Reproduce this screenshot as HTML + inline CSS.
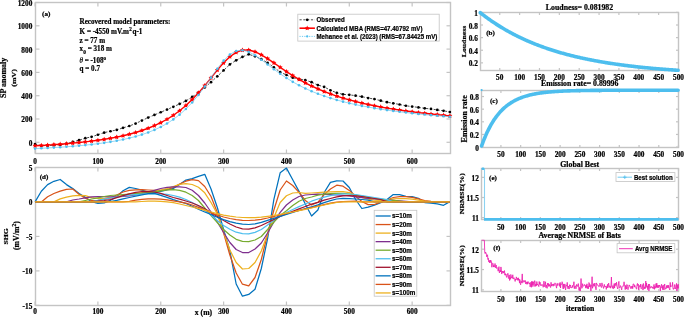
<!DOCTYPE html>
<html><head><meta charset="utf-8"><style>
html,body{margin:0;padding:0;background:#fff;}
body{width:685px;height:317px;overflow:hidden;}
svg{display:block;will-change:transform;}
text{stroke:#000;stroke-width:0.22px;}
</style></head><body>
<svg width="685" height="317" viewBox="0 0 685 317">
<rect width="685" height="317" fill="#fff"/>
<rect x="35.5" y="2.5" width="415" height="151" fill="none" stroke="#c4c4c4" stroke-width="1.4"/>
<line x1="35.05" y1="153.5" x2="35.05" y2="149.5" stroke="#c4c4c4" stroke-width="1.2" />
<line x1="35.05" y1="2.5" x2="35.05" y2="6.5" stroke="#c4c4c4" stroke-width="1.2" />
<line x1="97.9" y1="153.5" x2="97.9" y2="149.5" stroke="#c4c4c4" stroke-width="1.2" />
<line x1="97.9" y1="2.5" x2="97.9" y2="6.5" stroke="#c4c4c4" stroke-width="1.2" />
<line x1="160.75" y1="153.5" x2="160.75" y2="149.5" stroke="#c4c4c4" stroke-width="1.2" />
<line x1="160.75" y1="2.5" x2="160.75" y2="6.5" stroke="#c4c4c4" stroke-width="1.2" />
<line x1="223.6" y1="153.5" x2="223.6" y2="149.5" stroke="#c4c4c4" stroke-width="1.2" />
<line x1="223.6" y1="2.5" x2="223.6" y2="6.5" stroke="#c4c4c4" stroke-width="1.2" />
<line x1="286.45" y1="153.5" x2="286.45" y2="149.5" stroke="#c4c4c4" stroke-width="1.2" />
<line x1="286.45" y1="2.5" x2="286.45" y2="6.5" stroke="#c4c4c4" stroke-width="1.2" />
<line x1="349.3" y1="153.5" x2="349.3" y2="149.5" stroke="#c4c4c4" stroke-width="1.2" />
<line x1="349.3" y1="2.5" x2="349.3" y2="6.5" stroke="#c4c4c4" stroke-width="1.2" />
<line x1="412.15" y1="153.5" x2="412.15" y2="149.5" stroke="#c4c4c4" stroke-width="1.2" />
<line x1="412.15" y1="2.5" x2="412.15" y2="6.5" stroke="#c4c4c4" stroke-width="1.2" />
<line x1="35.5" y1="142.3" x2="39.5" y2="142.3" stroke="#c4c4c4" stroke-width="1.2" />
<line x1="450.5" y1="142.3" x2="446.5" y2="142.3" stroke="#c4c4c4" stroke-width="1.2" />
<line x1="35.5" y1="119" x2="39.5" y2="119" stroke="#c4c4c4" stroke-width="1.2" />
<line x1="450.5" y1="119" x2="446.5" y2="119" stroke="#c4c4c4" stroke-width="1.2" />
<line x1="35.5" y1="95.7" x2="39.5" y2="95.7" stroke="#c4c4c4" stroke-width="1.2" />
<line x1="450.5" y1="95.7" x2="446.5" y2="95.7" stroke="#c4c4c4" stroke-width="1.2" />
<line x1="35.5" y1="72.4" x2="39.5" y2="72.4" stroke="#c4c4c4" stroke-width="1.2" />
<line x1="450.5" y1="72.4" x2="446.5" y2="72.4" stroke="#c4c4c4" stroke-width="1.2" />
<line x1="35.5" y1="49.1" x2="39.5" y2="49.1" stroke="#c4c4c4" stroke-width="1.2" />
<line x1="450.5" y1="49.1" x2="446.5" y2="49.1" stroke="#c4c4c4" stroke-width="1.2" />
<line x1="35.5" y1="25.8" x2="39.5" y2="25.8" stroke="#c4c4c4" stroke-width="1.2" />
<line x1="450.5" y1="25.8" x2="446.5" y2="25.8" stroke="#c4c4c4" stroke-width="1.2" />
<line x1="35.5" y1="2.5" x2="39.5" y2="2.5" stroke="#c4c4c4" stroke-width="1.2" />
<line x1="450.5" y1="2.5" x2="446.5" y2="2.5" stroke="#c4c4c4" stroke-width="1.2" />
<text transform="translate(35.05,163.68) scale(1.0,1.0)" font-size="7.3" text-anchor="middle" font-family='"Liberation Serif", serif' font-weight="bold" >0</text>
<text transform="translate(97.9,163.68) scale(1.0,1.0)" font-size="7.3" text-anchor="middle" font-family='"Liberation Serif", serif' font-weight="bold" >100</text>
<text transform="translate(160.75,163.68) scale(1.0,1.0)" font-size="7.3" text-anchor="middle" font-family='"Liberation Serif", serif' font-weight="bold" >200</text>
<text transform="translate(223.6,163.68) scale(1.0,1.0)" font-size="7.3" text-anchor="middle" font-family='"Liberation Serif", serif' font-weight="bold" >300</text>
<text transform="translate(286.45,163.68) scale(1.0,1.0)" font-size="7.3" text-anchor="middle" font-family='"Liberation Serif", serif' font-weight="bold" >400</text>
<text transform="translate(349.3,163.68) scale(1.0,1.0)" font-size="7.3" text-anchor="middle" font-family='"Liberation Serif", serif' font-weight="bold" >500</text>
<text transform="translate(412.15,163.68) scale(1.0,1.0)" font-size="7.3" text-anchor="middle" font-family='"Liberation Serif", serif' font-weight="bold" >600</text>
<text transform="translate(32.3,145.78) scale(1.0,1.0)" font-size="7.3" text-anchor="end" font-family='"Liberation Serif", serif' font-weight="bold" >0</text>
<text transform="translate(32.3,122.48) scale(1.0,1.0)" font-size="7.3" text-anchor="end" font-family='"Liberation Serif", serif' font-weight="bold" >200</text>
<text transform="translate(32.3,99.18) scale(1.0,1.0)" font-size="7.3" text-anchor="end" font-family='"Liberation Serif", serif' font-weight="bold" >400</text>
<text transform="translate(32.3,75.88) scale(1.0,1.0)" font-size="7.3" text-anchor="end" font-family='"Liberation Serif", serif' font-weight="bold" >600</text>
<text transform="translate(32.3,52.58) scale(1.0,1.0)" font-size="7.3" text-anchor="end" font-family='"Liberation Serif", serif' font-weight="bold" >800</text>
<text transform="translate(32.3,29.28) scale(1.0,1.0)" font-size="7.3" text-anchor="end" font-family='"Liberation Serif", serif' font-weight="bold" >1000</text>
<text transform="translate(32.3,5.98) scale(1.0,1.0)" font-size="7.3" text-anchor="end" font-family='"Liberation Serif", serif' font-weight="bold" >1200</text>
<text transform="translate(6.3,77.8) rotate(-90) scale(1,0.9)" x="0" y="0" font-size="8.0" text-anchor="middle" font-family='"Liberation Serif", serif' font-weight="bold">SP anomaly</text>
<text transform="translate(16,77.9) rotate(-90) scale(1,0.9)" x="0" y="0" font-size="7.9" text-anchor="middle" font-family='"Liberation Serif", serif' font-weight="bold">(mV)</text>
<text transform="translate(42,16.4) scale(1.13,1)" font-size="6.4" text-anchor="start" font-family='"Liberation Serif", serif' font-weight="bold" >(a)</text>
<g transform="translate(79.6,0) scale(0.935,1) translate(-79.6,0)" stroke="#000" stroke-width="0.28">
<text x="79.6" y="24.2" font-size="7.6" text-anchor="start" font-family='"Liberation Serif", serif' font-weight="bold" fill="#000" >Recovered model parameters:</text>
<text x="79.6" y="34.1" font-size="7.6" font-family='"Liberation Serif", serif' font-weight="bold">K = -4550 mV.m<tspan font-size="5.5" dy="-3.3" dx="0.4">2</tspan><tspan dy="3.3" dx="0.8">q-1</tspan></text>
<text x="79.6" y="42.6" font-size="7.6" text-anchor="start" font-family='"Liberation Serif", serif' font-weight="bold" fill="#000" >z = 77 m</text>
<text x="79.4" y="50.6" font-size="7.6" font-family='"Liberation Serif", serif' font-weight="bold">x<tspan font-size="5.8" dy="3.2" dx="0.3">0</tspan><tspan dy="-3.2"> = 318 m</tspan></text>
<text x="79.4" y="63.0" font-size="7.6" font-family='"Liberation Serif", serif' font-weight="bold"><tspan font-style="italic" font-weight="normal">&#952;</tspan> = -108<tspan font-size="5.3" dy="-2.8">o</tspan></text>
<text x="79.6" y="70.6" font-size="7.6" text-anchor="start" font-family='"Liberation Serif", serif' font-weight="bold" fill="#000" >q = 0.7</text>
</g>
<polyline points="35.05,144.05 41.33,145.8 47.62,145.56 53.9,145.21 60.19,144.86 66.47,143.7 72.76,141.95 79.04,140.2 85.33,138.22 91.61,136.82 97.9,134.73 104.18,132.63 110.47,131.23 116.75,129.95 123.04,127.85 129.32,125.99 135.61,123.55 141.89,120.54 148.18,117.57 154.46,114.91 160.75,112.24 167.03,109.53 173.32,106.82 179.6,103.91 185.89,100.95 192.18,96.94 198.46,92.67 204.75,87.4 211.03,82.13 217.31,76.31 223.6,70.43 229.88,64.41 236.17,60.3 242.45,56.89 248.74,54.34 255.02,56.35 261.31,59.2 267.59,62.83 273.88,67.35 280.16,72.05 286.45,75.02 292.74,77.72 299.02,79.15 305.31,80.11 311.59,82.2 317.88,85.04 324.16,86.88 330.44,90.28 336.73,92.78 343.01,94.34 349.3,94.85 355.58,95.64 361.87,96.67 368.15,98.03 374.44,99.11 380.72,100.7 387.01,102.21 393.29,103.29 399.58,104.5 405.86,105.76 412.15,106.6 418.44,107.41 424.72,108.33 431,108.94 437.29,109.96 443.57,110.78 449.86,112" fill="none" stroke="#000" stroke-width="0.7" stroke-linejoin="round" stroke-dasharray="2.2,1.6"/>
<circle cx="35.05" cy="144.05" r="1.35" fill="#000"/>
<circle cx="41.33" cy="145.8" r="1.35" fill="#000"/>
<circle cx="47.62" cy="145.56" r="1.35" fill="#000"/>
<circle cx="53.9" cy="145.21" r="1.35" fill="#000"/>
<circle cx="60.19" cy="144.86" r="1.35" fill="#000"/>
<circle cx="66.47" cy="143.7" r="1.35" fill="#000"/>
<circle cx="72.76" cy="141.95" r="1.35" fill="#000"/>
<circle cx="79.04" cy="140.2" r="1.35" fill="#000"/>
<circle cx="85.33" cy="138.22" r="1.35" fill="#000"/>
<circle cx="91.61" cy="136.82" r="1.35" fill="#000"/>
<circle cx="97.9" cy="134.73" r="1.35" fill="#000"/>
<circle cx="104.18" cy="132.63" r="1.35" fill="#000"/>
<circle cx="110.47" cy="131.23" r="1.35" fill="#000"/>
<circle cx="116.75" cy="129.95" r="1.35" fill="#000"/>
<circle cx="123.04" cy="127.85" r="1.35" fill="#000"/>
<circle cx="129.32" cy="125.99" r="1.35" fill="#000"/>
<circle cx="135.61" cy="123.55" r="1.35" fill="#000"/>
<circle cx="141.89" cy="120.54" r="1.35" fill="#000"/>
<circle cx="148.18" cy="117.57" r="1.35" fill="#000"/>
<circle cx="154.46" cy="114.91" r="1.35" fill="#000"/>
<circle cx="160.75" cy="112.24" r="1.35" fill="#000"/>
<circle cx="167.03" cy="109.53" r="1.35" fill="#000"/>
<circle cx="173.32" cy="106.82" r="1.35" fill="#000"/>
<circle cx="179.6" cy="103.91" r="1.35" fill="#000"/>
<circle cx="185.89" cy="100.95" r="1.35" fill="#000"/>
<circle cx="192.18" cy="96.94" r="1.35" fill="#000"/>
<circle cx="198.46" cy="92.67" r="1.35" fill="#000"/>
<circle cx="204.75" cy="87.4" r="1.35" fill="#000"/>
<circle cx="211.03" cy="82.13" r="1.35" fill="#000"/>
<circle cx="217.31" cy="76.31" r="1.35" fill="#000"/>
<circle cx="223.6" cy="70.43" r="1.35" fill="#000"/>
<circle cx="229.88" cy="64.41" r="1.35" fill="#000"/>
<circle cx="236.17" cy="60.3" r="1.35" fill="#000"/>
<circle cx="242.45" cy="56.89" r="1.35" fill="#000"/>
<circle cx="248.74" cy="54.34" r="1.35" fill="#000"/>
<circle cx="255.02" cy="56.35" r="1.35" fill="#000"/>
<circle cx="261.31" cy="59.2" r="1.35" fill="#000"/>
<circle cx="267.59" cy="62.83" r="1.35" fill="#000"/>
<circle cx="273.88" cy="67.35" r="1.35" fill="#000"/>
<circle cx="280.16" cy="72.05" r="1.35" fill="#000"/>
<circle cx="286.45" cy="75.02" r="1.35" fill="#000"/>
<circle cx="292.74" cy="77.72" r="1.35" fill="#000"/>
<circle cx="299.02" cy="79.15" r="1.35" fill="#000"/>
<circle cx="305.31" cy="80.11" r="1.35" fill="#000"/>
<circle cx="311.59" cy="82.2" r="1.35" fill="#000"/>
<circle cx="317.88" cy="85.04" r="1.35" fill="#000"/>
<circle cx="324.16" cy="86.88" r="1.35" fill="#000"/>
<circle cx="330.44" cy="90.28" r="1.35" fill="#000"/>
<circle cx="336.73" cy="92.78" r="1.35" fill="#000"/>
<circle cx="343.01" cy="94.34" r="1.35" fill="#000"/>
<circle cx="349.3" cy="94.85" r="1.35" fill="#000"/>
<circle cx="355.58" cy="95.64" r="1.35" fill="#000"/>
<circle cx="361.87" cy="96.67" r="1.35" fill="#000"/>
<circle cx="368.15" cy="98.03" r="1.35" fill="#000"/>
<circle cx="374.44" cy="99.11" r="1.35" fill="#000"/>
<circle cx="380.72" cy="100.7" r="1.35" fill="#000"/>
<circle cx="387.01" cy="102.21" r="1.35" fill="#000"/>
<circle cx="393.29" cy="103.29" r="1.35" fill="#000"/>
<circle cx="399.58" cy="104.5" r="1.35" fill="#000"/>
<circle cx="405.86" cy="105.76" r="1.35" fill="#000"/>
<circle cx="412.15" cy="106.6" r="1.35" fill="#000"/>
<circle cx="418.44" cy="107.41" r="1.35" fill="#000"/>
<circle cx="424.72" cy="108.33" r="1.35" fill="#000"/>
<circle cx="431" cy="108.94" r="1.35" fill="#000"/>
<circle cx="437.29" cy="109.96" r="1.35" fill="#000"/>
<circle cx="443.57" cy="110.78" r="1.35" fill="#000"/>
<circle cx="449.86" cy="112" r="1.35" fill="#000"/>
<polyline points="35.05,145.8 41.33,145.46 47.62,145.08 53.9,144.67 60.19,144.22 66.47,143.72 72.76,143.16 79.04,142.55 85.33,141.87 91.61,141.12 97.9,140.28 104.18,139.33 110.47,138.28 116.75,137.09 123.04,135.74 129.32,134.22 135.61,132.49 141.89,130.52 148.18,128.26 154.46,125.67 160.75,122.69 167.03,119.25 173.32,115.29 179.6,110.73 185.89,105.5 192.18,99.55 198.46,92.89 204.75,85.59 211.03,77.86 217.31,70.09 223.6,62.83 229.88,56.73 236.17,52.39 242.45,50.16 248.74,50.04 255.02,51.74 261.31,54.78 267.59,58.65 273.88,62.92 280.16,67.3 286.45,71.57 292.74,75.61 299.02,79.38 305.31,82.84 311.59,86.01 317.88,88.9 324.16,91.52 330.44,93.91 336.73,96.09 343.01,98.07 349.3,99.89 355.58,101.55 361.87,103.07 368.15,104.47 374.44,105.77 380.72,106.96 387.01,108.07 393.29,109.1 399.58,110.06 405.86,110.95 412.15,111.79 418.44,112.57 424.72,113.31 431,114 437.29,114.65 443.57,115.26 449.86,115.84" fill="none" stroke="#ff0000" stroke-width="1.4" stroke-linejoin="round" />
<polygon points="35.05,143.2 35.81,144.75 37.52,145 36.29,146.2 36.58,147.9 35.05,147.1 33.52,147.9 33.81,146.2 32.58,145 34.29,144.75" fill="#ff0000"/>
<polygon points="41.33,142.86 42.1,144.41 43.81,144.65 42.57,145.86 42.86,147.56 41.33,146.76 39.81,147.56 40.1,145.86 38.86,144.65 40.57,144.41" fill="#ff0000"/>
<polygon points="47.62,142.48 48.38,144.03 50.09,144.28 48.86,145.48 49.15,147.19 47.62,146.38 46.09,147.19 46.38,145.48 45.15,144.28 46.86,144.03" fill="#ff0000"/>
<polygon points="53.9,142.07 54.67,143.62 56.38,143.87 55.14,145.07 55.43,146.77 53.9,145.97 52.38,146.77 52.67,145.07 51.43,143.87 53.14,143.62" fill="#ff0000"/>
<polygon points="60.19,141.62 60.95,143.16 62.66,143.41 61.43,144.62 61.72,146.32 60.19,145.52 58.66,146.32 58.95,144.62 57.72,143.41 59.43,143.16" fill="#ff0000"/>
<polygon points="66.47,141.12 67.24,142.66 68.95,142.91 67.71,144.12 68,145.82 66.47,145.02 64.95,145.82 65.24,144.12 64,142.91 65.71,142.66" fill="#ff0000"/>
<polygon points="72.76,140.56 73.52,142.11 75.23,142.36 74,143.57 74.29,145.27 72.76,144.46 71.23,145.27 71.52,143.57 70.29,142.36 72,142.11" fill="#ff0000"/>
<polygon points="79.04,139.95 79.81,141.5 81.52,141.75 80.28,142.95 80.57,144.66 79.04,143.85 77.52,144.66 77.81,142.95 76.57,141.75 78.28,141.5" fill="#ff0000"/>
<polygon points="85.33,139.27 86.09,140.82 87.8,141.07 86.57,142.27 86.86,143.98 85.33,143.17 83.8,143.98 84.09,142.27 82.86,141.07 84.57,140.82" fill="#ff0000"/>
<polygon points="91.61,138.52 92.38,140.07 94.09,140.31 92.85,141.52 93.14,143.22 91.61,142.42 90.09,143.22 90.38,141.52 89.14,140.31 90.85,140.07" fill="#ff0000"/>
<polygon points="97.9,137.68 98.66,139.22 100.37,139.47 99.14,140.68 99.43,142.38 97.9,141.58 96.37,142.38 96.66,140.68 95.43,139.47 97.14,139.22" fill="#ff0000"/>
<polygon points="104.18,136.73 104.95,138.28 106.66,138.53 105.42,139.74 105.71,141.44 104.18,140.63 102.66,141.44 102.95,139.74 101.71,138.53 103.42,138.28" fill="#ff0000"/>
<polygon points="110.47,135.68 111.23,137.22 112.94,137.47 111.71,138.68 112,140.38 110.47,139.58 108.94,140.38 109.23,138.68 108,137.47 109.71,137.22" fill="#ff0000"/>
<polygon points="116.75,134.49 117.52,136.03 119.23,136.28 117.99,137.49 118.28,139.19 116.75,138.39 115.23,139.19 115.52,137.49 114.28,136.28 115.99,136.03" fill="#ff0000"/>
<polygon points="123.04,133.14 123.8,134.69 125.51,134.94 124.28,136.14 124.57,137.85 123.04,137.04 121.51,137.85 121.8,136.14 120.57,134.94 122.28,134.69" fill="#ff0000"/>
<polygon points="129.32,131.62 130.09,133.17 131.8,133.42 130.56,134.62 130.85,136.32 129.32,135.52 127.8,136.32 128.09,134.62 126.85,133.42 128.56,133.17" fill="#ff0000"/>
<polygon points="135.61,129.89 136.37,131.44 138.08,131.69 136.85,132.89 137.14,134.59 135.61,133.79 134.08,134.59 134.37,132.89 133.14,131.69 134.85,131.44" fill="#ff0000"/>
<polygon points="141.89,127.92 142.66,129.47 144.37,129.71 143.13,130.92 143.42,132.62 141.89,131.82 140.37,132.62 140.66,130.92 139.42,129.71 141.13,129.47" fill="#ff0000"/>
<polygon points="148.18,125.66 148.94,127.21 150.65,127.46 149.42,128.66 149.71,130.36 148.18,129.56 146.65,130.36 146.94,128.66 145.71,127.46 147.42,127.21" fill="#ff0000"/>
<polygon points="154.46,123.07 155.23,124.62 156.94,124.86 155.7,126.07 155.99,127.77 154.46,126.97 152.94,127.77 153.23,126.07 151.99,124.86 153.7,124.62" fill="#ff0000"/>
<polygon points="160.75,120.09 161.51,121.64 163.22,121.88 161.99,123.09 162.28,124.79 160.75,123.99 159.22,124.79 159.51,123.09 158.28,121.88 159.99,121.64" fill="#ff0000"/>
<polygon points="167.03,116.65 167.8,118.2 169.51,118.45 168.27,119.65 168.56,121.36 167.03,120.55 165.51,121.36 165.8,119.65 164.56,118.45 166.27,118.2" fill="#ff0000"/>
<polygon points="173.32,112.69 174.08,114.24 175.79,114.49 174.56,115.69 174.85,117.39 173.32,116.59 171.79,117.39 172.08,115.69 170.85,114.49 172.56,114.24" fill="#ff0000"/>
<polygon points="179.6,108.13 180.37,109.68 182.08,109.93 180.84,111.13 181.13,112.83 179.6,112.03 178.08,112.83 178.37,111.13 177.13,109.93 178.84,109.68" fill="#ff0000"/>
<polygon points="185.89,102.9 186.65,104.45 188.36,104.7 187.13,105.9 187.42,107.6 185.89,106.8 184.36,107.6 184.65,105.9 183.42,104.7 185.13,104.45" fill="#ff0000"/>
<polygon points="192.18,96.95 192.94,98.5 194.65,98.75 193.41,99.95 193.7,101.66 192.18,100.85 190.65,101.66 190.94,99.95 189.7,98.75 191.41,98.5" fill="#ff0000"/>
<polygon points="198.46,90.29 199.22,91.84 200.93,92.08 199.7,93.29 199.99,94.99 198.46,94.19 196.93,94.99 197.22,93.29 195.99,92.08 197.7,91.84" fill="#ff0000"/>
<polygon points="204.75,82.99 205.51,84.53 207.22,84.78 205.98,85.99 206.27,87.69 204.75,86.89 203.22,87.69 203.51,85.99 202.27,84.78 203.98,84.53" fill="#ff0000"/>
<polygon points="211.03,75.26 211.79,76.81 213.5,77.06 212.27,78.26 212.56,79.96 211.03,79.16 209.5,79.96 209.79,78.26 208.56,77.06 210.27,76.81" fill="#ff0000"/>
<polygon points="217.31,67.49 218.08,69.04 219.79,69.29 218.55,70.49 218.84,72.19 217.31,71.39 215.79,72.19 216.08,70.49 214.84,69.29 216.55,69.04" fill="#ff0000"/>
<polygon points="223.6,60.23 224.36,61.78 226.07,62.03 224.84,63.23 225.13,64.93 223.6,64.13 222.07,64.93 222.36,63.23 221.13,62.03 222.84,61.78" fill="#ff0000"/>
<polygon points="229.88,54.13 230.65,55.68 232.36,55.93 231.12,57.13 231.41,58.83 229.88,58.03 228.36,58.83 228.65,57.13 227.41,55.93 229.12,55.68" fill="#ff0000"/>
<polygon points="236.17,49.79 236.93,51.34 238.64,51.59 237.41,52.79 237.7,54.49 236.17,53.69 234.64,54.49 234.93,52.79 233.7,51.59 235.41,51.34" fill="#ff0000"/>
<polygon points="242.45,47.56 243.22,49.1 244.93,49.35 243.69,50.56 243.98,52.26 242.45,51.46 240.93,52.26 241.22,50.56 239.98,49.35 241.69,49.1" fill="#ff0000"/>
<polygon points="248.74,47.44 249.5,48.99 251.21,49.24 249.98,50.44 250.27,52.15 248.74,51.34 247.21,52.15 247.5,50.44 246.27,49.24 247.98,48.99" fill="#ff0000"/>
<polygon points="255.02,49.14 255.79,50.69 257.5,50.94 256.26,52.14 256.55,53.85 255.02,53.04 253.5,53.85 253.79,52.14 252.55,50.94 254.26,50.69" fill="#ff0000"/>
<polygon points="261.31,52.18 262.07,53.73 263.78,53.97 262.55,55.18 262.84,56.88 261.31,56.08 259.78,56.88 260.07,55.18 258.84,53.97 260.55,53.73" fill="#ff0000"/>
<polygon points="267.59,56.05 268.36,57.6 270.07,57.84 268.83,59.05 269.12,60.75 267.59,59.95 266.07,60.75 266.36,59.05 265.12,57.84 266.83,57.6" fill="#ff0000"/>
<polygon points="273.88,60.32 274.64,61.87 276.35,62.12 275.12,63.33 275.41,65.03 273.88,64.22 272.35,65.03 272.64,63.33 271.41,62.12 273.12,61.87" fill="#ff0000"/>
<polygon points="280.16,64.7 280.93,66.25 282.64,66.49 281.4,67.7 281.69,69.4 280.16,68.6 278.64,69.4 278.93,67.7 277.69,66.49 279.4,66.25" fill="#ff0000"/>
<polygon points="286.45,68.97 287.21,70.51 288.92,70.76 287.69,71.97 287.98,73.67 286.45,72.87 284.92,73.67 285.21,71.97 283.98,70.76 285.69,70.51" fill="#ff0000"/>
<polygon points="292.74,73.01 293.5,74.56 295.21,74.81 293.97,76.01 294.26,77.71 292.74,76.91 291.21,77.71 291.5,76.01 290.26,74.81 291.97,74.56" fill="#ff0000"/>
<polygon points="299.02,76.78 299.78,78.32 301.49,78.57 300.26,79.78 300.55,81.48 299.02,80.68 297.49,81.48 297.78,79.78 296.55,78.57 298.26,78.32" fill="#ff0000"/>
<polygon points="305.31,80.24 306.07,81.79 307.78,82.04 306.54,83.24 306.83,84.94 305.31,84.14 303.78,84.94 304.07,83.24 302.83,82.04 304.54,81.79" fill="#ff0000"/>
<polygon points="311.59,83.41 312.35,84.96 314.06,85.21 312.83,86.41 313.12,88.11 311.59,87.31 310.06,88.11 310.35,86.41 309.12,85.21 310.83,84.96" fill="#ff0000"/>
<polygon points="317.88,86.3 318.64,87.84 320.35,88.09 319.11,89.3 319.4,91 317.88,90.2 316.35,91 316.64,89.3 315.4,88.09 317.11,87.84" fill="#ff0000"/>
<polygon points="324.16,88.92 324.92,90.47 326.63,90.72 325.4,91.92 325.69,93.63 324.16,92.82 322.63,93.63 322.92,91.92 321.69,90.72 323.4,90.47" fill="#ff0000"/>
<polygon points="330.44,91.31 331.21,92.86 332.92,93.11 331.68,94.31 331.97,96.02 330.44,95.21 328.92,96.02 329.21,94.31 327.97,93.11 329.68,92.86" fill="#ff0000"/>
<polygon points="336.73,93.49 337.49,95.04 339.2,95.28 337.97,96.49 338.26,98.19 336.73,97.39 335.2,98.19 335.49,96.49 334.26,95.28 335.97,95.04" fill="#ff0000"/>
<polygon points="343.01,95.47 343.78,97.02 345.49,97.27 344.25,98.47 344.54,100.18 343.01,99.37 341.49,100.18 341.78,98.47 340.54,97.27 342.25,97.02" fill="#ff0000"/>
<polygon points="349.3,97.29 350.06,98.83 351.77,99.08 350.54,100.29 350.83,101.99 349.3,101.19 347.77,101.99 348.06,100.29 346.83,99.08 348.54,98.83" fill="#ff0000"/>
<polygon points="355.58,98.95 356.35,100.5 358.06,100.74 356.82,101.95 357.11,103.65 355.58,102.85 354.06,103.65 354.35,101.95 353.11,100.74 354.82,100.5" fill="#ff0000"/>
<polygon points="361.87,100.47 362.63,102.02 364.34,102.27 363.11,103.47 363.4,105.18 361.87,104.37 360.34,105.18 360.63,103.47 359.4,102.27 361.11,102.02" fill="#ff0000"/>
<polygon points="368.15,101.87 368.92,103.42 370.63,103.67 369.39,104.88 369.68,106.58 368.15,105.77 366.63,106.58 366.92,104.88 365.68,103.67 367.39,103.42" fill="#ff0000"/>
<polygon points="374.44,103.17 375.2,104.72 376.91,104.96 375.68,106.17 375.97,107.87 374.44,107.07 372.91,107.87 373.2,106.17 371.97,104.96 373.68,104.72" fill="#ff0000"/>
<polygon points="380.72,104.36 381.49,105.91 383.2,106.16 381.96,107.37 382.25,109.07 380.72,108.26 379.2,109.07 379.49,107.37 378.25,106.16 379.96,105.91" fill="#ff0000"/>
<polygon points="387.01,105.47 387.77,107.02 389.48,107.27 388.25,108.47 388.54,110.18 387.01,109.37 385.48,110.18 385.77,108.47 384.54,107.27 386.25,107.02" fill="#ff0000"/>
<polygon points="393.29,106.5 394.06,108.05 395.77,108.3 394.53,109.5 394.82,111.21 393.29,110.4 391.77,111.21 392.06,109.5 390.82,108.3 392.53,108.05" fill="#ff0000"/>
<polygon points="399.58,107.46 400.34,109.01 402.05,109.26 400.82,110.46 401.11,112.16 399.58,111.36 398.05,112.16 398.34,110.46 397.11,109.26 398.82,109.01" fill="#ff0000"/>
<polygon points="405.86,108.35 406.63,109.9 408.34,110.15 407.1,111.36 407.39,113.06 405.86,112.25 404.34,113.06 404.63,111.36 403.39,110.15 405.1,109.9" fill="#ff0000"/>
<polygon points="412.15,109.19 412.91,110.74 414.62,110.99 413.39,112.19 413.68,113.89 412.15,113.09 410.62,113.89 410.91,112.19 409.68,110.99 411.39,110.74" fill="#ff0000"/>
<polygon points="418.44,109.97 419.2,111.52 420.91,111.77 419.67,112.97 419.96,114.68 418.44,113.87 416.91,114.68 417.2,112.97 415.96,111.77 417.67,111.52" fill="#ff0000"/>
<polygon points="424.72,110.71 425.48,112.26 427.19,112.5 425.96,113.71 426.25,115.41 424.72,114.61 423.19,115.41 423.48,113.71 422.25,112.5 423.96,112.26" fill="#ff0000"/>
<polygon points="431,111.4 431.77,112.95 433.48,113.19 432.24,114.4 432.53,116.1 431,115.3 429.48,116.1 429.77,114.4 428.53,113.19 430.24,112.95" fill="#ff0000"/>
<polygon points="437.29,112.05 438.05,113.6 439.76,113.84 438.53,115.05 438.82,116.75 437.29,115.95 435.76,116.75 436.05,115.05 434.82,113.84 436.53,113.6" fill="#ff0000"/>
<polygon points="443.57,112.66 444.34,114.21 446.05,114.46 444.81,115.66 445.1,117.36 443.57,116.56 442.05,117.36 442.34,115.66 441.1,114.46 442.81,114.21" fill="#ff0000"/>
<polygon points="449.86,113.24 450.62,114.79 452.33,115.04 451.1,116.24 451.39,117.94 449.86,117.14 448.33,117.94 448.62,116.24 447.39,115.04 449.1,114.79" fill="#ff0000"/>
<polyline points="35.05,148.58 41.33,148.29 47.62,147.96 53.9,147.6 60.19,147.2 66.47,146.76 72.76,146.27 79.04,145.73 85.33,145.12 91.61,144.45 97.9,143.69 104.18,142.84 110.47,141.87 116.75,140.78 123.04,139.54 129.32,138.12 135.61,136.49 141.89,134.61 148.18,132.43 154.46,129.9 160.75,126.95 167.03,123.49 173.32,119.42 179.6,114.63 185.89,109.02 192.18,102.48 198.46,94.98 204.75,86.6 211.03,77.65 217.31,68.71 223.6,60.66 229.88,54.5 236.17,50.95 242.45,50.21 248.74,51.91 255.02,55.32 261.31,59.7 267.59,64.48 273.88,69.25 280.16,73.8 286.45,78.01 292.74,81.85 299.02,85.32 305.31,88.44 311.59,91.25 317.88,93.77 324.16,96.04 330.44,98.1 336.73,99.96 343.01,101.65 349.3,103.19 355.58,104.59 361.87,105.88 368.15,107.07 374.44,108.17 380.72,109.18 387.01,110.12 393.29,110.99 399.58,111.8 405.86,112.56 412.15,113.27 418.44,113.94 424.72,114.56 431,115.15 437.29,115.71 443.57,116.23 449.86,116.73" fill="none" stroke="#4dbeee" stroke-width="0.6" stroke-linejoin="round" />
<circle cx="35.05" cy="148.58" r="1.3" fill="#4dbeee"/>
<circle cx="41.33" cy="148.29" r="1.3" fill="#4dbeee"/>
<circle cx="47.62" cy="147.96" r="1.3" fill="#4dbeee"/>
<circle cx="53.9" cy="147.6" r="1.3" fill="#4dbeee"/>
<circle cx="60.19" cy="147.2" r="1.3" fill="#4dbeee"/>
<circle cx="66.47" cy="146.76" r="1.3" fill="#4dbeee"/>
<circle cx="72.76" cy="146.27" r="1.3" fill="#4dbeee"/>
<circle cx="79.04" cy="145.73" r="1.3" fill="#4dbeee"/>
<circle cx="85.33" cy="145.12" r="1.3" fill="#4dbeee"/>
<circle cx="91.61" cy="144.45" r="1.3" fill="#4dbeee"/>
<circle cx="97.9" cy="143.69" r="1.3" fill="#4dbeee"/>
<circle cx="104.18" cy="142.84" r="1.3" fill="#4dbeee"/>
<circle cx="110.47" cy="141.87" r="1.3" fill="#4dbeee"/>
<circle cx="116.75" cy="140.78" r="1.3" fill="#4dbeee"/>
<circle cx="123.04" cy="139.54" r="1.3" fill="#4dbeee"/>
<circle cx="129.32" cy="138.12" r="1.3" fill="#4dbeee"/>
<circle cx="135.61" cy="136.49" r="1.3" fill="#4dbeee"/>
<circle cx="141.89" cy="134.61" r="1.3" fill="#4dbeee"/>
<circle cx="148.18" cy="132.43" r="1.3" fill="#4dbeee"/>
<circle cx="154.46" cy="129.9" r="1.3" fill="#4dbeee"/>
<circle cx="160.75" cy="126.95" r="1.3" fill="#4dbeee"/>
<circle cx="167.03" cy="123.49" r="1.3" fill="#4dbeee"/>
<circle cx="173.32" cy="119.42" r="1.3" fill="#4dbeee"/>
<circle cx="179.6" cy="114.63" r="1.3" fill="#4dbeee"/>
<circle cx="185.89" cy="109.02" r="1.3" fill="#4dbeee"/>
<circle cx="192.18" cy="102.48" r="1.3" fill="#4dbeee"/>
<circle cx="198.46" cy="94.98" r="1.3" fill="#4dbeee"/>
<circle cx="204.75" cy="86.6" r="1.3" fill="#4dbeee"/>
<circle cx="211.03" cy="77.65" r="1.3" fill="#4dbeee"/>
<circle cx="217.31" cy="68.71" r="1.3" fill="#4dbeee"/>
<circle cx="223.6" cy="60.66" r="1.3" fill="#4dbeee"/>
<circle cx="229.88" cy="54.5" r="1.3" fill="#4dbeee"/>
<circle cx="236.17" cy="50.95" r="1.3" fill="#4dbeee"/>
<circle cx="242.45" cy="50.21" r="1.3" fill="#4dbeee"/>
<circle cx="248.74" cy="51.91" r="1.3" fill="#4dbeee"/>
<circle cx="255.02" cy="55.32" r="1.3" fill="#4dbeee"/>
<circle cx="261.31" cy="59.7" r="1.3" fill="#4dbeee"/>
<circle cx="267.59" cy="64.48" r="1.3" fill="#4dbeee"/>
<circle cx="273.88" cy="69.25" r="1.3" fill="#4dbeee"/>
<circle cx="280.16" cy="73.8" r="1.3" fill="#4dbeee"/>
<circle cx="286.45" cy="78.01" r="1.3" fill="#4dbeee"/>
<circle cx="292.74" cy="81.85" r="1.3" fill="#4dbeee"/>
<circle cx="299.02" cy="85.32" r="1.3" fill="#4dbeee"/>
<circle cx="305.31" cy="88.44" r="1.3" fill="#4dbeee"/>
<circle cx="311.59" cy="91.25" r="1.3" fill="#4dbeee"/>
<circle cx="317.88" cy="93.77" r="1.3" fill="#4dbeee"/>
<circle cx="324.16" cy="96.04" r="1.3" fill="#4dbeee"/>
<circle cx="330.44" cy="98.1" r="1.3" fill="#4dbeee"/>
<circle cx="336.73" cy="99.96" r="1.3" fill="#4dbeee"/>
<circle cx="343.01" cy="101.65" r="1.3" fill="#4dbeee"/>
<circle cx="349.3" cy="103.19" r="1.3" fill="#4dbeee"/>
<circle cx="355.58" cy="104.59" r="1.3" fill="#4dbeee"/>
<circle cx="361.87" cy="105.88" r="1.3" fill="#4dbeee"/>
<circle cx="368.15" cy="107.07" r="1.3" fill="#4dbeee"/>
<circle cx="374.44" cy="108.17" r="1.3" fill="#4dbeee"/>
<circle cx="380.72" cy="109.18" r="1.3" fill="#4dbeee"/>
<circle cx="387.01" cy="110.12" r="1.3" fill="#4dbeee"/>
<circle cx="393.29" cy="110.99" r="1.3" fill="#4dbeee"/>
<circle cx="399.58" cy="111.8" r="1.3" fill="#4dbeee"/>
<circle cx="405.86" cy="112.56" r="1.3" fill="#4dbeee"/>
<circle cx="412.15" cy="113.27" r="1.3" fill="#4dbeee"/>
<circle cx="418.44" cy="113.94" r="1.3" fill="#4dbeee"/>
<circle cx="424.72" cy="114.56" r="1.3" fill="#4dbeee"/>
<circle cx="431" cy="115.15" r="1.3" fill="#4dbeee"/>
<circle cx="437.29" cy="115.71" r="1.3" fill="#4dbeee"/>
<circle cx="443.57" cy="116.23" r="1.3" fill="#4dbeee"/>
<circle cx="449.86" cy="116.73" r="1.3" fill="#4dbeee"/>
<rect x="297.8" y="14.2" width="141.4" height="26.9" fill="#fff" stroke="#c4c4c4" stroke-width="0.8"/>
<line x1="299.5" y1="19.8" x2="314.9" y2="19.8" stroke="#000" stroke-width="0.7" stroke-dasharray="2.2,1.6"/>
<circle cx="307.2" cy="19.8" r="1.35" fill="#000"/>
<line x1="299.5" y1="28.2" x2="314.9" y2="28.2" stroke="#ff0000" stroke-width="1.6" />
<polygon points="307.2,25.6 307.96,27.15 309.67,27.4 308.44,28.6 308.73,30.3 307.2,29.5 305.67,30.3 305.96,28.6 304.73,27.4 306.44,27.15" fill="#ff0000"/>
<line x1="299.5" y1="36.4" x2="314.9" y2="36.4" stroke="#4dbeee" stroke-width="0.8" stroke-dasharray="1.2,1.2"/>
<circle cx="307.2" cy="36.4" r="1.15" fill="#4dbeee"/>
<text transform="translate(316.5,22.2) scale(0.887,1)" font-size="6.9" text-anchor="start" font-family='"Liberation Sans", sans-serif' font-weight="bold" >Observed</text>
<text transform="translate(316.5,30.6) scale(0.887,1)" font-size="6.9" text-anchor="start" font-family='"Liberation Sans", sans-serif' font-weight="bold" >Calculated MBA (RMS=47.40792 mV)</text>
<text transform="translate(316.5,38.8) scale(0.887,1)" font-size="6.9" text-anchor="start" font-family='"Liberation Sans", sans-serif' font-weight="bold" >Mehanee et al. (2023) (RMS=67.84425 mV)</text>
<rect x="35.5" y="167.5" width="415" height="138" fill="none" stroke="#c4c4c4" stroke-width="1.4"/>
<line x1="35.05" y1="305.5" x2="35.05" y2="301.5" stroke="#c4c4c4" stroke-width="1.2" />
<line x1="35.05" y1="167.5" x2="35.05" y2="171.5" stroke="#c4c4c4" stroke-width="1.2" />
<line x1="97.9" y1="305.5" x2="97.9" y2="301.5" stroke="#c4c4c4" stroke-width="1.2" />
<line x1="97.9" y1="167.5" x2="97.9" y2="171.5" stroke="#c4c4c4" stroke-width="1.2" />
<line x1="160.75" y1="305.5" x2="160.75" y2="301.5" stroke="#c4c4c4" stroke-width="1.2" />
<line x1="160.75" y1="167.5" x2="160.75" y2="171.5" stroke="#c4c4c4" stroke-width="1.2" />
<line x1="223.6" y1="305.5" x2="223.6" y2="301.5" stroke="#c4c4c4" stroke-width="1.2" />
<line x1="223.6" y1="167.5" x2="223.6" y2="171.5" stroke="#c4c4c4" stroke-width="1.2" />
<line x1="286.45" y1="305.5" x2="286.45" y2="301.5" stroke="#c4c4c4" stroke-width="1.2" />
<line x1="286.45" y1="167.5" x2="286.45" y2="171.5" stroke="#c4c4c4" stroke-width="1.2" />
<line x1="349.3" y1="305.5" x2="349.3" y2="301.5" stroke="#c4c4c4" stroke-width="1.2" />
<line x1="349.3" y1="167.5" x2="349.3" y2="171.5" stroke="#c4c4c4" stroke-width="1.2" />
<line x1="412.15" y1="305.5" x2="412.15" y2="301.5" stroke="#c4c4c4" stroke-width="1.2" />
<line x1="412.15" y1="167.5" x2="412.15" y2="171.5" stroke="#c4c4c4" stroke-width="1.2" />
<line x1="35.5" y1="305.38" x2="39.5" y2="305.38" stroke="#c4c4c4" stroke-width="1.2" />
<line x1="450.5" y1="305.38" x2="446.5" y2="305.38" stroke="#c4c4c4" stroke-width="1.2" />
<line x1="35.5" y1="270.9" x2="39.5" y2="270.9" stroke="#c4c4c4" stroke-width="1.2" />
<line x1="450.5" y1="270.9" x2="446.5" y2="270.9" stroke="#c4c4c4" stroke-width="1.2" />
<line x1="35.5" y1="236.42" x2="39.5" y2="236.42" stroke="#c4c4c4" stroke-width="1.2" />
<line x1="450.5" y1="236.42" x2="446.5" y2="236.42" stroke="#c4c4c4" stroke-width="1.2" />
<line x1="35.5" y1="201.95" x2="39.5" y2="201.95" stroke="#c4c4c4" stroke-width="1.2" />
<line x1="450.5" y1="201.95" x2="446.5" y2="201.95" stroke="#c4c4c4" stroke-width="1.2" />
<line x1="35.5" y1="167.47" x2="39.5" y2="167.47" stroke="#c4c4c4" stroke-width="1.2" />
<line x1="450.5" y1="167.47" x2="446.5" y2="167.47" stroke="#c4c4c4" stroke-width="1.2" />
<text transform="translate(35.05,314.38) scale(1.0,1.0)" font-size="7.3" text-anchor="middle" font-family='"Liberation Serif", serif' font-weight="bold" >0</text>
<text transform="translate(97.9,314.38) scale(1.0,1.0)" font-size="7.3" text-anchor="middle" font-family='"Liberation Serif", serif' font-weight="bold" >100</text>
<text transform="translate(160.75,314.38) scale(1.0,1.0)" font-size="7.3" text-anchor="middle" font-family='"Liberation Serif", serif' font-weight="bold" >200</text>
<text transform="translate(223.6,314.38) scale(1.0,1.0)" font-size="7.3" text-anchor="middle" font-family='"Liberation Serif", serif' font-weight="bold" >300</text>
<text transform="translate(286.45,314.38) scale(1.0,1.0)" font-size="7.3" text-anchor="middle" font-family='"Liberation Serif", serif' font-weight="bold" >400</text>
<text transform="translate(349.3,314.38) scale(1.0,1.0)" font-size="7.3" text-anchor="middle" font-family='"Liberation Serif", serif' font-weight="bold" >500</text>
<text transform="translate(412.15,314.38) scale(1.0,1.0)" font-size="7.3" text-anchor="middle" font-family='"Liberation Serif", serif' font-weight="bold" >600</text>
<text transform="translate(32.3,308.86) scale(1.0,1.0)" font-size="7.3" text-anchor="end" font-family='"Liberation Serif", serif' font-weight="bold" >-15</text>
<text transform="translate(32.3,274.38) scale(1.0,1.0)" font-size="7.3" text-anchor="end" font-family='"Liberation Serif", serif' font-weight="bold" >-10</text>
<text transform="translate(32.3,239.91) scale(1.0,1.0)" font-size="7.3" text-anchor="end" font-family='"Liberation Serif", serif' font-weight="bold" >-5</text>
<text transform="translate(32.3,205.43) scale(1.0,1.0)" font-size="7.3" text-anchor="end" font-family='"Liberation Serif", serif' font-weight="bold" >0</text>
<text transform="translate(32.3,170.96) scale(1.0,1.0)" font-size="7.3" text-anchor="end" font-family='"Liberation Serif", serif' font-weight="bold" >5</text>
<text transform="translate(8.2,236.3) rotate(-90) scale(1,0.9)" x="0" y="0" font-size="7.8" text-anchor="middle" font-family='"Liberation Serif", serif' font-weight="bold">SHG</text>
<text transform="translate(19.1,235.6) rotate(-90)" font-size="7.8" text-anchor="middle" font-family='"Liberation Serif", serif' font-weight="bold">(mV/m<tspan font-size="5.5" dy="-3">2</tspan><tspan dy="3">)</tspan></text>
<text transform="translate(39.7,178.8) scale(1.1,1)" font-size="6.4" text-anchor="start" font-family='"Liberation Serif", serif' font-weight="bold" >(d)</text>
<text x="203.5" y="314.6" font-size="7.7" text-anchor="middle" font-family='"Liberation Serif", serif' font-weight="bold" fill="#000" >x (m)</text>
<polyline points="35.05,201.9 41.33,191.2 47.62,184.6 53.9,181.3 60.19,179.5 66.47,184.6 72.76,188.6 79.04,193.6 85.33,197.4 91.61,201.7 97.9,203.4 104.18,202.8 110.47,200.3 116.75,196.6 123.04,190.8 129.32,187.4 135.61,188.5 141.89,190.2 148.18,192 154.46,192.4 160.75,191.3 167.03,189.9 173.32,188.4 179.6,184.5 185.89,180.1 192.18,178.7 198.46,176.4 204.75,174.3 211.03,189 217.31,207.5 223.6,229.5 229.88,251 236.17,284 242.45,296.2 248.74,294.4 255.02,289.3 261.31,268.5 267.59,238.6 273.88,199.3 280.16,172.8 286.45,168.1 292.74,179.8 299.02,191.4 305.31,204 311.59,216 317.88,210 324.16,192.5 330.44,182.3 336.73,180.8 343.01,181 349.3,187.5 355.58,199.5 361.87,208.5 368.15,207.2 374.44,205.2 380.72,202.7 387.01,199.5 393.29,194.6 399.58,194.6 405.86,196.4 412.15,196.6 418.44,198.3 424.72,202.6 431,203.2 437.29,203.8 443.57,205.3 449.86,201.6" fill="none" stroke="#0072bd" stroke-width="1.25" stroke-linejoin="round" />
<polyline points="35.05,201.9 41.33,201.9 47.62,196.7 53.9,193.5 60.19,191.1 66.47,189.3 72.76,189 79.04,194.3 85.33,198.2 91.61,200.5 97.9,200.3 104.18,199.3 110.47,198 116.75,195 123.04,192 129.32,190.3 135.61,189.8 141.89,189.6 148.18,190 154.46,190.4 160.75,190.4 167.03,189.5 173.32,187.5 179.6,184 185.89,181.2 192.18,179.6 198.46,180.6 204.75,186.5 211.03,196.5 217.31,212.5 223.6,233 229.88,255 236.17,273 242.45,284.2 248.74,285.8 255.02,277.5 261.31,259.5 267.59,234 273.88,210 280.16,190 286.45,181 292.74,185.5 299.02,192.3 305.31,200.5 311.59,205 317.88,202.3 324.16,194.5 330.44,189 336.73,185.2 343.01,186.2 349.3,190.4 355.58,196.3 361.87,201.5 368.15,204.6 374.44,204.5 380.72,202.2 387.01,200 393.29,197.5 399.58,196.6 405.86,196.6 412.15,197.4 418.44,198.8 424.72,200.6 431,201.4 437.29,201.6 443.57,201.9 449.86,201.9" fill="none" stroke="#d95319" stroke-width="1.25" stroke-linejoin="round" />
<polyline points="35.05,201.9 41.33,201.9 47.62,201.9 53.9,201.9 60.19,198.9 66.47,197.2 72.76,195.9 79.04,195.3 85.33,195.6 91.61,197.6 97.9,198.5 104.18,198.3 110.47,197.5 116.75,196.5 123.04,195.3 129.32,194.2 135.61,193.2 141.89,192.5 148.18,191.8 154.46,191 160.75,190 167.03,188.5 173.32,186.5 179.6,184.3 185.89,183.6 192.18,184.5 198.46,187.3 204.75,192.8 211.03,202.5 217.31,214 223.6,232 229.88,250 236.17,262.5 242.45,269 248.74,268.5 255.02,262.5 261.31,251 267.59,234 273.88,217.5 280.16,202.5 286.45,195.8 292.74,193 299.02,192.5 305.31,193.3 311.59,193 317.88,192.6 324.16,192.2 330.44,191.8 336.73,191.6 343.01,191.6 349.3,192.6 355.58,195 361.87,197.4 368.15,199.2 374.44,200.2 380.72,200.5 387.01,199.8 393.29,198.8 399.58,198.5 405.86,198.6 412.15,199.2 418.44,200.2 424.72,201 431,201.6 437.29,201.7 443.57,201.8 449.86,201.9" fill="none" stroke="#edb120" stroke-width="1.25" stroke-linejoin="round" />
<polyline points="35.05,201.9 41.33,201.9 47.62,201.9 53.9,201.9 60.19,201.9 66.47,201.9 72.76,200 79.04,199 85.33,197.8 91.61,196.9 97.9,196.6 104.18,196.6 110.47,196.8 116.75,196.8 123.04,196.5 129.32,195.8 135.61,194.8 141.89,193.5 148.18,192 154.46,190.3 160.75,188.5 167.03,187.4 173.32,186.9 179.6,186.8 185.89,187.5 192.18,190.3 198.46,195.5 204.75,203 211.03,212 217.31,222 223.6,232.5 229.88,242.5 236.17,249.5 242.45,252.5 248.74,252.5 255.02,249 261.31,243 267.59,233 273.88,222 280.16,212.3 286.45,205 292.74,200 299.02,196.5 305.31,195 311.59,194.5 317.88,194.2 324.16,194.3 330.44,194.6 336.73,195 343.01,195.4 349.3,196 355.58,196.8 361.87,197.6 368.15,198.4 374.44,199 380.72,199.5 387.01,199.8 393.29,200.3 399.58,200.8 405.86,201.3 412.15,201.9 418.44,201.9 424.72,201.9 431,201.9 437.29,201.9 443.57,201.9 449.86,201.9" fill="none" stroke="#7e2f8e" stroke-width="1.25" stroke-linejoin="round" />
<polyline points="35.05,201.9 41.33,201.9 47.62,201.9 53.9,201.9 60.19,201.9 66.47,201.9 72.76,201.9 79.04,201.9 85.33,200.5 91.61,199 97.9,197.8 104.18,196.5 110.47,195.5 116.75,195 123.04,194.5 129.32,194 135.61,193.6 141.89,193.2 148.18,192.6 154.46,191.8 160.75,190.8 167.03,189.8 173.32,189.6 179.6,190.3 185.89,192.2 192.18,195.5 198.46,200.5 204.75,208 211.03,215.5 217.31,222.5 223.6,229.5 229.88,235 236.17,239.3 242.45,241.4 248.74,241.6 255.02,240 261.31,236.5 267.59,229.5 273.88,222 280.16,215.5 286.45,210.8 292.74,205.5 299.02,201.2 305.31,198.5 311.59,197 317.88,195.2 324.16,194.2 330.44,193.6 336.73,193.3 343.01,193.3 349.3,194 355.58,195 361.87,196.2 368.15,197.4 374.44,198.4 380.72,199.2 387.01,199.8 393.29,200.4 399.58,201.2 405.86,201.9 412.15,201.9 418.44,201.9 424.72,201.9 431,201.9 437.29,201.9 443.57,201.9 449.86,201.9" fill="none" stroke="#77ac30" stroke-width="1.25" stroke-linejoin="round" />
<polyline points="35.05,201.9 41.33,201.9 47.62,201.9 53.9,201.9 60.19,201.9 66.47,201.9 72.76,201.9 79.04,201.9 85.33,201.9 91.61,201.9 97.9,200.3 104.18,199.2 110.47,198 116.75,197 123.04,196 129.32,195.2 135.61,194.6 141.89,194.2 148.18,193.9 154.46,193.8 160.75,193.9 167.03,194.4 173.32,195.5 179.6,197.2 185.89,199.5 192.18,202.5 198.46,206 204.75,210.5 211.03,215 217.31,220.5 223.6,225.5 229.88,229.3 236.17,232.2 242.45,233.6 248.74,233.8 255.02,232.4 261.31,229.5 267.59,225 273.88,220 280.16,215.8 286.45,212.5 292.74,209.5 299.02,206.6 305.31,204 311.59,201.2 317.88,199 324.16,197.2 330.44,195.6 336.73,194.3 343.01,193.8 349.3,194 355.58,194.5 361.87,195.5 368.15,196.5 374.44,197.5 380.72,198.5 387.01,199.6 393.29,201.9 399.58,201.9 405.86,201.9 412.15,201.9 418.44,201.9 424.72,201.9 431,201.9 437.29,201.9 443.57,201.9 449.86,201.9" fill="none" stroke="#4dbeee" stroke-width="1.25" stroke-linejoin="round" />
<polyline points="35.05,201.9 41.33,201.9 47.62,201.9 53.9,201.9 60.19,201.9 66.47,201.9 72.76,201.9 79.04,201.9 85.33,201.9 91.61,201.9 97.9,201.2 104.18,200.5 110.47,199.6 116.75,197.6 123.04,195.6 129.32,193.8 135.61,192.4 141.89,191.5 148.18,191.5 154.46,192 160.75,193.4 167.03,195.5 173.32,197.5 179.6,199.2 185.89,201 192.18,203 198.46,205.5 204.75,208.8 211.03,212.5 217.31,216.5 223.6,220.5 229.88,224 236.17,227 242.45,228.8 248.74,229.2 255.02,227.8 261.31,225.5 267.59,222.5 273.88,219.5 280.16,216.5 286.45,213.8 292.74,211.3 299.02,208.8 305.31,206.5 311.59,204.2 317.88,202.3 324.16,200.2 330.44,198.5 336.73,196.8 343.01,195.8 349.3,195.5 355.58,195.8 361.87,196.5 368.15,197.5 374.44,198.5 380.72,199.5 387.01,201.9 393.29,201.9 399.58,201.9 405.86,201.9 412.15,201.9 418.44,201.9 424.72,201.9 431,201.9 437.29,201.9 443.57,201.9 449.86,201.9" fill="none" stroke="#a2142f" stroke-width="1.25" stroke-linejoin="round" />
<polyline points="35.05,201.9 41.33,201.9 47.62,201.9 53.9,201.9 60.19,201.9 66.47,201.9 72.76,201.9 79.04,201.9 85.33,201.9 91.61,201.9 97.9,201.9 104.18,201.9 110.47,201.5 116.75,200.3 123.04,198.8 129.32,197.5 135.61,196.1 141.89,194.9 148.18,193.6 154.46,193.4 160.75,195.3 167.03,197.4 173.32,199.6 179.6,201.6 185.89,203.5 192.18,206.3 198.46,209.2 204.75,212 211.03,214.5 217.31,217.3 223.6,219.7 229.88,221.6 236.17,223.2 242.45,224.2 248.74,224.5 255.02,223.8 261.31,222.3 267.59,220.3 273.88,218.3 280.16,216.3 286.45,214.4 292.74,212.5 299.02,210.5 305.31,208.7 311.59,206.8 317.88,204.8 324.16,202.6 330.44,200.6 336.73,199 343.01,198.4 349.3,198.6 355.58,199 361.87,199.5 368.15,200.2 374.44,201.9 380.72,201.9 387.01,201.9 393.29,201.9 399.58,201.9 405.86,201.9 412.15,201.9 418.44,201.9 424.72,201.9 431,201.9 437.29,201.9 443.57,201.9 449.86,201.9" fill="none" stroke="#0072bd" stroke-width="1.25" stroke-linejoin="round" />
<polyline points="35.05,201.9 41.33,201.9 47.62,201.9 53.9,201.9 60.19,201.9 66.47,201.9 72.76,201.9 79.04,201.9 85.33,201.9 91.61,201.9 97.9,201.9 104.18,201.9 110.47,201.9 116.75,201.9 123.04,201.9 129.32,201.3 135.61,200.2 141.89,199.3 148.18,198.9 154.46,198.8 160.75,199.2 167.03,199.9 173.32,200.8 179.6,201.8 185.89,203.2 192.18,205 198.46,207.4 204.75,210 211.03,212.8 217.31,215 223.6,217 229.88,218.5 236.17,219.6 242.45,220.3 248.74,220.5 255.02,220.2 261.31,219.3 267.59,218 273.88,216.5 280.16,215 286.45,213.5 292.74,212 299.02,210.3 305.31,209 311.59,207.7 317.88,206.2 324.16,204.6 330.44,203.2 336.73,202.2 343.01,201.7 349.3,201.4 355.58,201.2 361.87,201.9 368.15,201.9 374.44,201.9 380.72,201.9 387.01,201.9 393.29,201.9 399.58,201.9 405.86,201.9 412.15,201.9 418.44,201.9 424.72,201.9 431,201.9 437.29,201.9 443.57,201.9 449.86,201.9" fill="none" stroke="#d95319" stroke-width="1.25" stroke-linejoin="round" />
<polyline points="35.05,201.9 41.33,201.9 47.62,201.9 53.9,201.9 60.19,201.9 66.47,201.9 72.76,201.9 79.04,201.9 85.33,201.9 91.61,201.9 97.9,201.9 104.18,201.9 110.47,201.9 116.75,201.9 123.04,201.9 129.32,201.9 135.61,201.9 141.89,201.5 148.18,201.2 154.46,201.1 160.75,201.3 167.03,201.8 173.32,202.7 179.6,204 185.89,205.5 192.18,207 198.46,208.6 204.75,210.2 211.03,212 217.31,213.7 223.6,215.2 229.88,216.2 236.17,217 242.45,217.5 248.74,217.7 255.02,217.6 261.31,217.2 267.59,216.4 273.88,215.5 280.16,214.4 286.45,213.2 292.74,212 299.02,210.6 305.31,209.3 311.59,208 317.88,206.5 324.16,205 330.44,203.7 336.73,202.5 343.01,201.9 349.3,201.9 355.58,201.9 361.87,201.9 368.15,201.9 374.44,201.9 380.72,201.9 387.01,201.9 393.29,201.9 399.58,201.9 405.86,201.9 412.15,201.9 418.44,201.9 424.72,201.9 431,201.9 437.29,201.9 443.57,201.9 449.86,201.9" fill="none" stroke="#edb120" stroke-width="1.25" stroke-linejoin="round" />
<rect x="374.2" y="210.3" width="42.6" height="85.9" fill="#fff" stroke="#c4c4c4" stroke-width="0.8"/>
<line x1="375.6" y1="216" x2="390.7" y2="216" stroke="#0072bd" stroke-width="1.3" />
<text transform="translate(392,218.4) scale(0.9,1)" font-size="7.0" text-anchor="start" font-family='"Liberation Sans", sans-serif' font-weight="bold" >s=10m</text>
<line x1="375.6" y1="224.55" x2="390.7" y2="224.55" stroke="#d95319" stroke-width="1.3" />
<text transform="translate(392,226.95) scale(0.9,1)" font-size="7.0" text-anchor="start" font-family='"Liberation Sans", sans-serif' font-weight="bold" >s=20m</text>
<line x1="375.6" y1="233.1" x2="390.7" y2="233.1" stroke="#edb120" stroke-width="1.3" />
<text transform="translate(392,235.5) scale(0.9,1)" font-size="7.0" text-anchor="start" font-family='"Liberation Sans", sans-serif' font-weight="bold" >s=30m</text>
<line x1="375.6" y1="241.65" x2="390.7" y2="241.65" stroke="#7e2f8e" stroke-width="1.3" />
<text transform="translate(392,244.05) scale(0.9,1)" font-size="7.0" text-anchor="start" font-family='"Liberation Sans", sans-serif' font-weight="bold" >s=40m</text>
<line x1="375.6" y1="250.2" x2="390.7" y2="250.2" stroke="#77ac30" stroke-width="1.3" />
<text transform="translate(392,252.6) scale(0.9,1)" font-size="7.0" text-anchor="start" font-family='"Liberation Sans", sans-serif' font-weight="bold" >s=50m</text>
<line x1="375.6" y1="258.75" x2="390.7" y2="258.75" stroke="#4dbeee" stroke-width="1.3" />
<text transform="translate(392,261.15) scale(0.9,1)" font-size="7.0" text-anchor="start" font-family='"Liberation Sans", sans-serif' font-weight="bold" >s=60m</text>
<line x1="375.6" y1="267.3" x2="390.7" y2="267.3" stroke="#a2142f" stroke-width="1.3" />
<text transform="translate(392,269.7) scale(0.9,1)" font-size="7.0" text-anchor="start" font-family='"Liberation Sans", sans-serif' font-weight="bold" >s=70m</text>
<line x1="375.6" y1="275.85" x2="390.7" y2="275.85" stroke="#0072bd" stroke-width="1.3" />
<text transform="translate(392,278.25) scale(0.9,1)" font-size="7.0" text-anchor="start" font-family='"Liberation Sans", sans-serif' font-weight="bold" >s=80m</text>
<line x1="375.6" y1="284.4" x2="390.7" y2="284.4" stroke="#d95319" stroke-width="1.3" />
<text transform="translate(392,286.8) scale(0.9,1)" font-size="7.0" text-anchor="start" font-family='"Liberation Sans", sans-serif' font-weight="bold" >s=90m</text>
<line x1="375.6" y1="292.95" x2="390.7" y2="292.95" stroke="#edb120" stroke-width="1.3" />
<text transform="translate(392,295.35) scale(0.9,1)" font-size="7.0" text-anchor="start" font-family='"Liberation Sans", sans-serif' font-weight="bold" >s=100m</text>
<rect x="480.5" y="12.5" width="198" height="58" fill="none" stroke="#c4c4c4" stroke-width="1.4"/>
<line x1="499.76" y1="70.5" x2="499.76" y2="68" stroke="#c4c4c4" stroke-width="1.2" />
<line x1="499.76" y1="12.5" x2="499.76" y2="15" stroke="#c4c4c4" stroke-width="1.2" />
<line x1="519.62" y1="70.5" x2="519.62" y2="68" stroke="#c4c4c4" stroke-width="1.2" />
<line x1="519.62" y1="12.5" x2="519.62" y2="15" stroke="#c4c4c4" stroke-width="1.2" />
<line x1="539.48" y1="70.5" x2="539.48" y2="68" stroke="#c4c4c4" stroke-width="1.2" />
<line x1="539.48" y1="12.5" x2="539.48" y2="15" stroke="#c4c4c4" stroke-width="1.2" />
<line x1="559.34" y1="70.5" x2="559.34" y2="68" stroke="#c4c4c4" stroke-width="1.2" />
<line x1="559.34" y1="12.5" x2="559.34" y2="15" stroke="#c4c4c4" stroke-width="1.2" />
<line x1="579.2" y1="70.5" x2="579.2" y2="68" stroke="#c4c4c4" stroke-width="1.2" />
<line x1="579.2" y1="12.5" x2="579.2" y2="15" stroke="#c4c4c4" stroke-width="1.2" />
<line x1="599.06" y1="70.5" x2="599.06" y2="68" stroke="#c4c4c4" stroke-width="1.2" />
<line x1="599.06" y1="12.5" x2="599.06" y2="15" stroke="#c4c4c4" stroke-width="1.2" />
<line x1="618.92" y1="70.5" x2="618.92" y2="68" stroke="#c4c4c4" stroke-width="1.2" />
<line x1="618.92" y1="12.5" x2="618.92" y2="15" stroke="#c4c4c4" stroke-width="1.2" />
<line x1="638.78" y1="70.5" x2="638.78" y2="68" stroke="#c4c4c4" stroke-width="1.2" />
<line x1="638.78" y1="12.5" x2="638.78" y2="15" stroke="#c4c4c4" stroke-width="1.2" />
<line x1="658.64" y1="70.5" x2="658.64" y2="68" stroke="#c4c4c4" stroke-width="1.2" />
<line x1="658.64" y1="12.5" x2="658.64" y2="15" stroke="#c4c4c4" stroke-width="1.2" />
<line x1="678.5" y1="70.5" x2="678.5" y2="68" stroke="#c4c4c4" stroke-width="1.2" />
<line x1="678.5" y1="12.5" x2="678.5" y2="15" stroke="#c4c4c4" stroke-width="1.2" />
<line x1="480.5" y1="62.86" x2="483" y2="62.86" stroke="#c4c4c4" stroke-width="1.2" />
<line x1="678.5" y1="62.86" x2="676" y2="62.86" stroke="#c4c4c4" stroke-width="1.2" />
<line x1="480.5" y1="50.24" x2="483" y2="50.24" stroke="#c4c4c4" stroke-width="1.2" />
<line x1="678.5" y1="50.24" x2="676" y2="50.24" stroke="#c4c4c4" stroke-width="1.2" />
<line x1="480.5" y1="37.63" x2="483" y2="37.63" stroke="#c4c4c4" stroke-width="1.2" />
<line x1="678.5" y1="37.63" x2="676" y2="37.63" stroke="#c4c4c4" stroke-width="1.2" />
<line x1="480.5" y1="25.01" x2="483" y2="25.01" stroke="#c4c4c4" stroke-width="1.2" />
<line x1="678.5" y1="25.01" x2="676" y2="25.01" stroke="#c4c4c4" stroke-width="1.2" />
<line x1="480.5" y1="12.4" x2="483" y2="12.4" stroke="#c4c4c4" stroke-width="1.2" />
<line x1="678.5" y1="12.4" x2="676" y2="12.4" stroke="#c4c4c4" stroke-width="1.2" />
<text transform="translate(499.76,80.08) scale(1.0,1.0)" font-size="7.3" text-anchor="middle" font-family='"Liberation Serif", serif' font-weight="bold" >50</text>
<text transform="translate(519.62,80.08) scale(1.0,1.0)" font-size="7.3" text-anchor="middle" font-family='"Liberation Serif", serif' font-weight="bold" >100</text>
<text transform="translate(539.48,80.08) scale(1.0,1.0)" font-size="7.3" text-anchor="middle" font-family='"Liberation Serif", serif' font-weight="bold" >150</text>
<text transform="translate(559.34,80.08) scale(1.0,1.0)" font-size="7.3" text-anchor="middle" font-family='"Liberation Serif", serif' font-weight="bold" >200</text>
<text transform="translate(579.2,80.08) scale(1.0,1.0)" font-size="7.3" text-anchor="middle" font-family='"Liberation Serif", serif' font-weight="bold" >250</text>
<text transform="translate(599.06,80.08) scale(1.0,1.0)" font-size="7.3" text-anchor="middle" font-family='"Liberation Serif", serif' font-weight="bold" >300</text>
<text transform="translate(618.92,80.08) scale(1.0,1.0)" font-size="7.3" text-anchor="middle" font-family='"Liberation Serif", serif' font-weight="bold" >350</text>
<text transform="translate(638.78,80.08) scale(1.0,1.0)" font-size="7.3" text-anchor="middle" font-family='"Liberation Serif", serif' font-weight="bold" >400</text>
<text transform="translate(658.64,80.08) scale(1.0,1.0)" font-size="7.3" text-anchor="middle" font-family='"Liberation Serif", serif' font-weight="bold" >450</text>
<text transform="translate(678.5,80.08) scale(1.0,1.0)" font-size="7.3" text-anchor="middle" font-family='"Liberation Serif", serif' font-weight="bold" >500</text>
<text transform="translate(477.8,66.34) scale(1.0,1.0)" font-size="7.3" text-anchor="end" font-family='"Liberation Serif", serif' font-weight="bold" >0.2</text>
<text transform="translate(477.8,53.72) scale(1.0,1.0)" font-size="7.3" text-anchor="end" font-family='"Liberation Serif", serif' font-weight="bold" >0.4</text>
<text transform="translate(477.8,41.11) scale(1.0,1.0)" font-size="7.3" text-anchor="end" font-family='"Liberation Serif", serif' font-weight="bold" >0.6</text>
<text transform="translate(477.8,28.5) scale(1.0,1.0)" font-size="7.3" text-anchor="end" font-family='"Liberation Serif", serif' font-weight="bold" >0.8</text>
<text transform="translate(477.8,15.88) scale(1.0,1.0)" font-size="7.3" text-anchor="end" font-family='"Liberation Serif", serif' font-weight="bold" >1</text>
<text x="579.5" y="10.2" font-size="7.8" text-anchor="middle" font-family='"Liberation Serif", serif' font-weight="bold" fill="#000" >Loudness= 0.081982</text>
<text transform="translate(465.9,41.5) rotate(-90) scale(1,0.9)" x="0" y="0" font-size="7.8" text-anchor="middle" font-family='"Liberation Serif", serif' font-weight="bold">Loudness</text>
<text transform="translate(486.2,34.6) scale(1.1,1)" font-size="6.4" text-anchor="start" font-family='"Liberation Serif", serif' font-weight="bold" >(b)</text>
<polyline points="480.3,12.72 481.09,13.34 481.89,13.96 482.68,14.57 483.48,15.18 484.27,15.78 485.07,16.38 485.86,16.97 486.66,17.55 487.45,18.13 488.24,18.7 489.04,19.27 489.83,19.83 490.63,20.38 491.42,20.93 492.22,21.48 493.01,22.02 493.8,22.55 494.6,23.08 495.39,23.6 496.19,24.12 496.98,24.63 497.78,25.14 498.57,25.64 499.37,26.14 500.16,26.63 500.95,27.11 501.75,27.6 502.54,28.07 503.34,28.55 504.13,29.02 504.93,29.48 505.72,29.94 506.51,30.39 507.31,30.84 508.1,31.29 508.9,31.73 509.69,32.16 510.49,32.6 511.28,33.02 512.08,33.45 512.87,33.87 513.66,34.28 514.46,34.69 515.25,35.1 516.05,35.5 516.84,35.9 517.64,36.29 518.43,36.69 519.23,37.07 520.02,37.46 520.81,37.83 521.61,38.21 522.4,38.58 523.2,38.95 523.99,39.31 524.79,39.67 525.58,40.03 526.37,40.39 527.17,40.74 527.96,41.08 528.76,41.42 529.55,41.76 530.35,42.1 531.14,42.43 531.94,42.76 532.73,43.09 533.52,43.41 534.32,43.73 535.11,44.05 535.91,44.36 536.7,44.67 537.5,44.98 538.29,45.28 539.08,45.58 539.88,45.88 540.67,46.18 541.47,46.47 542.26,46.76 543.06,47.05 543.85,47.33 544.65,47.61 545.44,47.89 546.23,48.16 547.03,48.44 547.82,48.71 548.62,48.97 549.41,49.24 550.21,49.5 551,49.76 551.79,50.01 552.59,50.27 553.38,50.52 554.18,50.77 554.97,51.01 555.77,51.26 556.56,51.5 557.36,51.74 558.15,51.98 558.94,52.21 559.74,52.44 560.53,52.67 561.33,52.9 562.12,53.12 562.92,53.35 563.71,53.57 564.51,53.79 565.3,54 566.09,54.22 566.89,54.43 567.68,54.64 568.48,54.85 569.27,55.05 570.07,55.26 570.86,55.46 571.65,55.66 572.45,55.85 573.24,56.05 574.04,56.24 574.83,56.44 575.63,56.63 576.42,56.81 577.22,57 578.01,57.18 578.8,57.37 579.6,57.55 580.39,57.73 581.19,57.9 581.98,58.08 582.78,58.25 583.57,58.42 584.36,58.59 585.16,58.76 585.95,58.93 586.75,59.09 587.54,59.26 588.34,59.42 589.13,59.58 589.93,59.74 590.72,59.89 591.51,60.05 592.31,60.2 593.1,60.36 593.9,60.51 594.69,60.66 595.49,60.8 596.28,60.95 597.08,61.09 597.87,61.24 598.66,61.38 599.46,61.52 600.25,61.66 601.05,61.8 601.84,61.93 602.64,62.07 603.43,62.2 604.22,62.34 605.02,62.47 605.81,62.6 606.61,62.72 607.4,62.85 608.2,62.98 608.99,63.1 609.79,63.23 610.58,63.35 611.37,63.47 612.17,63.59 612.96,63.71 613.76,63.82 614.55,63.94 615.35,64.06 616.14,64.17 616.93,64.28 617.73,64.39 618.52,64.5 619.32,64.61 620.11,64.72 620.91,64.83 621.7,64.93 622.5,65.04 623.29,65.14 624.08,65.25 624.88,65.35 625.67,65.45 626.47,65.55 627.26,65.65 628.06,65.75 628.85,65.84 629.65,65.94 630.44,66.03 631.23,66.13 632.03,66.22 632.82,66.31 633.62,66.41 634.41,66.5 635.21,66.59 636,66.67 636.79,66.76 637.59,66.85 638.38,66.94 639.18,67.02 639.97,67.1 640.77,67.19 641.56,67.27 642.36,67.35 643.15,67.43 643.94,67.51 644.74,67.59 645.53,67.67 646.33,67.75 647.12,67.83 647.92,67.9 648.71,67.98 649.5,68.05 650.3,68.13 651.09,68.2 651.89,68.27 652.68,68.34 653.48,68.42 654.27,68.49 655.07,68.56 655.86,68.62 656.65,68.69 657.45,68.76 658.24,68.83 659.04,68.89 659.83,68.96 660.63,69.02 661.42,69.09 662.22,69.15 663.01,69.22 663.8,69.28 664.6,69.34 665.39,69.4 666.19,69.46 666.98,69.52 667.78,69.58 668.57,69.64 669.36,69.7 670.16,69.75 670.95,69.81 671.75,69.87 672.54,69.92 673.34,69.98 674.13,70.03 674.93,70.09 675.72,70.14 676.51,70.2 677.31,70.25 678.1,70.3" fill="none" stroke="#4dbeee" stroke-width="3.6" stroke-linejoin="round" stroke-linecap="round"/>
<rect x="481.5" y="90.5" width="197" height="57" fill="none" stroke="#c4c4c4" stroke-width="1.4"/>
<line x1="500.93" y1="147.5" x2="500.93" y2="145" stroke="#c4c4c4" stroke-width="1.2" />
<line x1="500.93" y1="90.5" x2="500.93" y2="93" stroke="#c4c4c4" stroke-width="1.2" />
<line x1="520.66" y1="147.5" x2="520.66" y2="145" stroke="#c4c4c4" stroke-width="1.2" />
<line x1="520.66" y1="90.5" x2="520.66" y2="93" stroke="#c4c4c4" stroke-width="1.2" />
<line x1="540.39" y1="147.5" x2="540.39" y2="145" stroke="#c4c4c4" stroke-width="1.2" />
<line x1="540.39" y1="90.5" x2="540.39" y2="93" stroke="#c4c4c4" stroke-width="1.2" />
<line x1="560.12" y1="147.5" x2="560.12" y2="145" stroke="#c4c4c4" stroke-width="1.2" />
<line x1="560.12" y1="90.5" x2="560.12" y2="93" stroke="#c4c4c4" stroke-width="1.2" />
<line x1="579.85" y1="147.5" x2="579.85" y2="145" stroke="#c4c4c4" stroke-width="1.2" />
<line x1="579.85" y1="90.5" x2="579.85" y2="93" stroke="#c4c4c4" stroke-width="1.2" />
<line x1="599.58" y1="147.5" x2="599.58" y2="145" stroke="#c4c4c4" stroke-width="1.2" />
<line x1="599.58" y1="90.5" x2="599.58" y2="93" stroke="#c4c4c4" stroke-width="1.2" />
<line x1="619.31" y1="147.5" x2="619.31" y2="145" stroke="#c4c4c4" stroke-width="1.2" />
<line x1="619.31" y1="90.5" x2="619.31" y2="93" stroke="#c4c4c4" stroke-width="1.2" />
<line x1="639.04" y1="147.5" x2="639.04" y2="145" stroke="#c4c4c4" stroke-width="1.2" />
<line x1="639.04" y1="90.5" x2="639.04" y2="93" stroke="#c4c4c4" stroke-width="1.2" />
<line x1="658.77" y1="147.5" x2="658.77" y2="145" stroke="#c4c4c4" stroke-width="1.2" />
<line x1="658.77" y1="90.5" x2="658.77" y2="93" stroke="#c4c4c4" stroke-width="1.2" />
<line x1="678.5" y1="147.5" x2="678.5" y2="145" stroke="#c4c4c4" stroke-width="1.2" />
<line x1="678.5" y1="90.5" x2="678.5" y2="93" stroke="#c4c4c4" stroke-width="1.2" />
<line x1="481.5" y1="147.1" x2="484" y2="147.1" stroke="#c4c4c4" stroke-width="1.2" />
<line x1="678.5" y1="147.1" x2="676" y2="147.1" stroke="#c4c4c4" stroke-width="1.2" />
<line x1="481.5" y1="134.45" x2="484" y2="134.45" stroke="#c4c4c4" stroke-width="1.2" />
<line x1="678.5" y1="134.45" x2="676" y2="134.45" stroke="#c4c4c4" stroke-width="1.2" />
<line x1="481.5" y1="121.81" x2="484" y2="121.81" stroke="#c4c4c4" stroke-width="1.2" />
<line x1="678.5" y1="121.81" x2="676" y2="121.81" stroke="#c4c4c4" stroke-width="1.2" />
<line x1="481.5" y1="109.16" x2="484" y2="109.16" stroke="#c4c4c4" stroke-width="1.2" />
<line x1="678.5" y1="109.16" x2="676" y2="109.16" stroke="#c4c4c4" stroke-width="1.2" />
<line x1="481.5" y1="96.52" x2="484" y2="96.52" stroke="#c4c4c4" stroke-width="1.2" />
<line x1="678.5" y1="96.52" x2="676" y2="96.52" stroke="#c4c4c4" stroke-width="1.2" />
<text transform="translate(500.93,156.68) scale(1.0,1.0)" font-size="7.3" text-anchor="middle" font-family='"Liberation Serif", serif' font-weight="bold" >50</text>
<text transform="translate(520.66,156.68) scale(1.0,1.0)" font-size="7.3" text-anchor="middle" font-family='"Liberation Serif", serif' font-weight="bold" >100</text>
<text transform="translate(540.39,156.68) scale(1.0,1.0)" font-size="7.3" text-anchor="middle" font-family='"Liberation Serif", serif' font-weight="bold" >150</text>
<text transform="translate(560.12,156.68) scale(1.0,1.0)" font-size="7.3" text-anchor="middle" font-family='"Liberation Serif", serif' font-weight="bold" >200</text>
<text transform="translate(579.85,156.68) scale(1.0,1.0)" font-size="7.3" text-anchor="middle" font-family='"Liberation Serif", serif' font-weight="bold" >250</text>
<text transform="translate(599.58,156.68) scale(1.0,1.0)" font-size="7.3" text-anchor="middle" font-family='"Liberation Serif", serif' font-weight="bold" >300</text>
<text transform="translate(619.31,156.68) scale(1.0,1.0)" font-size="7.3" text-anchor="middle" font-family='"Liberation Serif", serif' font-weight="bold" >350</text>
<text transform="translate(639.04,156.68) scale(1.0,1.0)" font-size="7.3" text-anchor="middle" font-family='"Liberation Serif", serif' font-weight="bold" >400</text>
<text transform="translate(658.77,156.68) scale(1.0,1.0)" font-size="7.3" text-anchor="middle" font-family='"Liberation Serif", serif' font-weight="bold" >450</text>
<text transform="translate(678.5,156.68) scale(1.0,1.0)" font-size="7.3" text-anchor="middle" font-family='"Liberation Serif", serif' font-weight="bold" >500</text>
<text transform="translate(478.8,150.58) scale(1.0,1.0)" font-size="7.3" text-anchor="end" font-family='"Liberation Serif", serif' font-weight="bold" >0</text>
<text transform="translate(478.8,137.94) scale(1.0,1.0)" font-size="7.3" text-anchor="end" font-family='"Liberation Serif", serif' font-weight="bold" >0.2</text>
<text transform="translate(478.8,125.29) scale(1.0,1.0)" font-size="7.3" text-anchor="end" font-family='"Liberation Serif", serif' font-weight="bold" >0.4</text>
<text transform="translate(478.8,112.65) scale(1.0,1.0)" font-size="7.3" text-anchor="end" font-family='"Liberation Serif", serif' font-weight="bold" >0.6</text>
<text transform="translate(478.8,100) scale(1.0,1.0)" font-size="7.3" text-anchor="end" font-family='"Liberation Serif", serif' font-weight="bold" >0.8</text>
<text x="579.7" y="86.2" font-size="7.8" text-anchor="middle" font-family='"Liberation Serif", serif' font-weight="bold" fill="#000" >Emission rate= 0.89996</text>
<text transform="translate(466.5,118.8) rotate(-90) scale(1,0.9)" x="0" y="0" font-size="8.1" text-anchor="middle" font-family='"Liberation Serif", serif' font-weight="bold">Emission rate</text>
<text transform="translate(490,103.1) scale(1.1,1)" font-size="6.4" text-anchor="start" font-family='"Liberation Serif", serif' font-weight="bold" >(c)</text>
<polyline points="481.6,145.97 482.39,143.79 483.18,141.69 483.97,139.67 484.76,137.73 485.55,135.86 486.34,134.07 487.12,132.35 487.91,130.7 488.7,129.11 489.49,127.59 490.28,126.12 491.07,124.71 491.86,123.36 492.65,122.06 493.44,120.81 494.23,119.61 495.02,118.45 495.81,117.35 496.59,116.28 497.38,115.26 498.17,114.28 498.96,113.33 499.75,112.43 500.54,111.55 501.33,110.72 502.12,109.91 502.91,109.14 503.7,108.4 504.49,107.68 505.28,107 506.06,106.34 506.85,105.71 507.64,105.1 508.43,104.51 509.22,103.95 510.01,103.41 510.8,102.89 511.59,102.4 512.38,101.92 513.17,101.46 513.96,101.02 514.75,100.59 515.53,100.19 516.32,99.79 517.11,99.42 517.9,99.06 518.69,98.71 519.48,98.37 520.27,98.05 521.06,97.75 521.85,97.45 522.64,97.17 523.43,96.89 524.22,96.63 525,96.38 525.79,96.14 526.58,95.9 527.37,95.68 528.16,95.46 528.95,95.26 529.74,95.06 530.53,94.87 531.32,94.69 532.11,94.51 532.9,94.34 533.69,94.18 534.47,94.02 535.26,93.87 536.05,93.73 536.84,93.59 537.63,93.46 538.42,93.33 539.21,93.21 540,93.09 540.79,92.97 541.58,92.87 542.37,92.76 543.16,92.66 543.95,92.56 544.73,92.47 545.52,92.38 546.31,92.3 547.1,92.21 547.89,92.13 548.68,92.06 549.47,91.99 550.26,91.92 551.05,91.85 551.84,91.78 552.63,91.72 553.42,91.66 554.2,91.6 554.99,91.55 555.78,91.5 556.57,91.45 557.36,91.4 558.15,91.35 558.94,91.3 559.73,91.26 560.52,91.22 561.31,91.18 562.1,91.14 562.89,91.1 563.67,91.07 564.46,91.03 565.25,91 566.04,90.97 566.83,90.94 567.62,90.91 568.41,90.88 569.2,90.86 569.99,90.83 570.78,90.8 571.57,90.78 572.36,90.76 573.14,90.74 573.93,90.72 574.72,90.69 575.51,90.68 576.3,90.66 577.09,90.64 577.88,90.62 578.67,90.6 579.46,90.59 580.25,90.57 581.04,90.56 581.83,90.54 582.61,90.53 583.4,90.52 584.19,90.51 584.98,90.49 585.77,90.48 586.56,90.47 587.35,90.46 588.14,90.45 588.93,90.44 589.72,90.43 590.51,90.42 591.3,90.41 592.08,90.4 592.87,90.4 593.66,90.39 594.45,90.38 595.24,90.37 596.03,90.37 596.82,90.36 597.61,90.35 598.4,90.35 599.19,90.34 599.98,90.34 600.77,90.33 601.56,90.33 602.34,90.32 603.13,90.32 603.92,90.31 604.71,90.31 605.5,90.3 606.29,90.3 607.08,90.29 607.87,90.29 608.66,90.29 609.45,90.28 610.24,90.28 611.03,90.28 611.81,90.27 612.6,90.27 613.39,90.27 614.18,90.26 614.97,90.26 615.76,90.26 616.55,90.26 617.34,90.25 618.13,90.25 618.92,90.25 619.71,90.25 620.5,90.25 621.28,90.24 622.07,90.24 622.86,90.24 623.65,90.24 624.44,90.24 625.23,90.24 626.02,90.23 626.81,90.23 627.6,90.23 628.39,90.23 629.18,90.23 629.97,90.23 630.75,90.23 631.54,90.23 632.33,90.22 633.12,90.22 633.91,90.22 634.7,90.22 635.49,90.22 636.28,90.22 637.07,90.22 637.86,90.22 638.65,90.22 639.44,90.22 640.22,90.22 641.01,90.21 641.8,90.21 642.59,90.21 643.38,90.21 644.17,90.21 644.96,90.21 645.75,90.21 646.54,90.21 647.33,90.21 648.12,90.21 648.91,90.21 649.69,90.21 650.48,90.21 651.27,90.21 652.06,90.21 652.85,90.21 653.64,90.21 654.43,90.21 655.22,90.21 656.01,90.21 656.8,90.21 657.59,90.2 658.38,90.2 659.17,90.2 659.95,90.2 660.74,90.2 661.53,90.2 662.32,90.2 663.11,90.2 663.9,90.2 664.69,90.2 665.48,90.2 666.27,90.2 667.06,90.2 667.85,90.2 668.64,90.2 669.42,90.2 670.21,90.2 671,90.2 671.79,90.2 672.58,90.2 673.37,90.2 674.16,90.2 674.95,90.2 675.74,90.2 676.53,90.2 677.32,90.2 678.11,90.2" fill="none" stroke="#4dbeee" stroke-width="3.6" stroke-linejoin="round" stroke-linecap="round"/>
<circle cx="481.6" cy="90.1" r="1.1" fill="#4dbeee"/>
<rect x="481.5" y="168.5" width="197" height="51" fill="none" stroke="#c4c4c4" stroke-width="1.4"/>
<line x1="500.84" y1="219.5" x2="500.84" y2="217" stroke="#c4c4c4" stroke-width="1.2" />
<line x1="500.84" y1="168.5" x2="500.84" y2="171" stroke="#c4c4c4" stroke-width="1.2" />
<line x1="520.58" y1="219.5" x2="520.58" y2="217" stroke="#c4c4c4" stroke-width="1.2" />
<line x1="520.58" y1="168.5" x2="520.58" y2="171" stroke="#c4c4c4" stroke-width="1.2" />
<line x1="540.32" y1="219.5" x2="540.32" y2="217" stroke="#c4c4c4" stroke-width="1.2" />
<line x1="540.32" y1="168.5" x2="540.32" y2="171" stroke="#c4c4c4" stroke-width="1.2" />
<line x1="560.06" y1="219.5" x2="560.06" y2="217" stroke="#c4c4c4" stroke-width="1.2" />
<line x1="560.06" y1="168.5" x2="560.06" y2="171" stroke="#c4c4c4" stroke-width="1.2" />
<line x1="579.8" y1="219.5" x2="579.8" y2="217" stroke="#c4c4c4" stroke-width="1.2" />
<line x1="579.8" y1="168.5" x2="579.8" y2="171" stroke="#c4c4c4" stroke-width="1.2" />
<line x1="599.54" y1="219.5" x2="599.54" y2="217" stroke="#c4c4c4" stroke-width="1.2" />
<line x1="599.54" y1="168.5" x2="599.54" y2="171" stroke="#c4c4c4" stroke-width="1.2" />
<line x1="619.28" y1="219.5" x2="619.28" y2="217" stroke="#c4c4c4" stroke-width="1.2" />
<line x1="619.28" y1="168.5" x2="619.28" y2="171" stroke="#c4c4c4" stroke-width="1.2" />
<line x1="639.02" y1="219.5" x2="639.02" y2="217" stroke="#c4c4c4" stroke-width="1.2" />
<line x1="639.02" y1="168.5" x2="639.02" y2="171" stroke="#c4c4c4" stroke-width="1.2" />
<line x1="658.76" y1="219.5" x2="658.76" y2="217" stroke="#c4c4c4" stroke-width="1.2" />
<line x1="658.76" y1="168.5" x2="658.76" y2="171" stroke="#c4c4c4" stroke-width="1.2" />
<line x1="678.5" y1="219.5" x2="678.5" y2="217" stroke="#c4c4c4" stroke-width="1.2" />
<line x1="678.5" y1="168.5" x2="678.5" y2="171" stroke="#c4c4c4" stroke-width="1.2" />
<line x1="481.5" y1="217.6" x2="484" y2="217.6" stroke="#c4c4c4" stroke-width="1.2" />
<line x1="678.5" y1="217.6" x2="676" y2="217.6" stroke="#c4c4c4" stroke-width="1.2" />
<line x1="481.5" y1="197.5" x2="484" y2="197.5" stroke="#c4c4c4" stroke-width="1.2" />
<line x1="678.5" y1="197.5" x2="676" y2="197.5" stroke="#c4c4c4" stroke-width="1.2" />
<line x1="481.5" y1="177.4" x2="484" y2="177.4" stroke="#c4c4c4" stroke-width="1.2" />
<line x1="678.5" y1="177.4" x2="676" y2="177.4" stroke="#c4c4c4" stroke-width="1.2" />
<text transform="translate(500.84,229.98) scale(1.0,1.0)" font-size="7.3" text-anchor="middle" font-family='"Liberation Serif", serif' font-weight="bold" >50</text>
<text transform="translate(520.58,229.98) scale(1.0,1.0)" font-size="7.3" text-anchor="middle" font-family='"Liberation Serif", serif' font-weight="bold" >100</text>
<text transform="translate(540.32,229.98) scale(1.0,1.0)" font-size="7.3" text-anchor="middle" font-family='"Liberation Serif", serif' font-weight="bold" >150</text>
<text transform="translate(560.06,229.98) scale(1.0,1.0)" font-size="7.3" text-anchor="middle" font-family='"Liberation Serif", serif' font-weight="bold" >200</text>
<text transform="translate(579.8,229.98) scale(1.0,1.0)" font-size="7.3" text-anchor="middle" font-family='"Liberation Serif", serif' font-weight="bold" >250</text>
<text transform="translate(599.54,229.98) scale(1.0,1.0)" font-size="7.3" text-anchor="middle" font-family='"Liberation Serif", serif' font-weight="bold" >300</text>
<text transform="translate(619.28,229.98) scale(1.0,1.0)" font-size="7.3" text-anchor="middle" font-family='"Liberation Serif", serif' font-weight="bold" >350</text>
<text transform="translate(639.02,229.98) scale(1.0,1.0)" font-size="7.3" text-anchor="middle" font-family='"Liberation Serif", serif' font-weight="bold" >400</text>
<text transform="translate(658.76,229.98) scale(1.0,1.0)" font-size="7.3" text-anchor="middle" font-family='"Liberation Serif", serif' font-weight="bold" >450</text>
<text transform="translate(678.5,229.98) scale(1.0,1.0)" font-size="7.3" text-anchor="middle" font-family='"Liberation Serif", serif' font-weight="bold" >500</text>
<text transform="translate(478.8,221.08) scale(1.0,1.0)" font-size="7.3" text-anchor="end" font-family='"Liberation Serif", serif' font-weight="bold" >11</text>
<text transform="translate(478.8,200.98) scale(1.0,1.0)" font-size="7.3" text-anchor="end" font-family='"Liberation Serif", serif' font-weight="bold" >11.5</text>
<text transform="translate(478.8,180.88) scale(1.0,1.0)" font-size="7.3" text-anchor="end" font-family='"Liberation Serif", serif' font-weight="bold" >12</text>
<text x="579.7" y="166.9" font-size="7.8" text-anchor="middle" font-family='"Liberation Serif", serif' font-weight="bold" fill="#000" >Global Best</text>
<text transform="translate(464,193.7) rotate(-90) scale(1,0.9)" x="0" y="0" font-size="7.8" text-anchor="middle" font-family='"Liberation Serif", serif' font-weight="bold">NRMSE(%)</text>
<text transform="translate(489.1,179.6) scale(1.1,1)" font-size="6.4" text-anchor="start" font-family='"Liberation Serif", serif' font-weight="bold" >(e)</text>
<polyline points="482.9,168.7 484.5,168.7 484.5,219.3" fill="none" stroke="#8cd2f1" stroke-width="1.1" stroke-linejoin="round" />
<rect x="481.6" y="167.4" width="2.7" height="2.6" rx="0.8" fill="#4dbeee"/>
<line x1="484" y1="219.3" x2="678.6" y2="219.3" stroke="#4dbeee" stroke-width="2.7" />
<rect x="616" y="172.6" width="58.9" height="8.9" fill="#fff" stroke="#c4c4c4" stroke-width="0.8"/>
<line x1="617.6" y1="177.2" x2="632" y2="177.2" stroke="#4dbeee" stroke-width="0.8" />
<line x1="624.8" y1="175.4" x2="624.8" y2="179" stroke="#4dbeee" stroke-width="0.8" />
<line x1="623" y1="177.2" x2="626.6" y2="177.2" stroke="#4dbeee" stroke-width="0.8" />
<text transform="translate(633.9,179.5) scale(0.89,1)" font-size="6.9" text-anchor="start" font-family='"Liberation Sans", sans-serif' font-weight="bold" >Best solution</text>
<rect x="481.5" y="240.5" width="197" height="51" fill="none" stroke="#c4c4c4" stroke-width="1.4"/>
<line x1="500.93" y1="291.5" x2="500.93" y2="289" stroke="#c4c4c4" stroke-width="1.2" />
<line x1="500.93" y1="240.5" x2="500.93" y2="243" stroke="#c4c4c4" stroke-width="1.2" />
<line x1="520.66" y1="291.5" x2="520.66" y2="289" stroke="#c4c4c4" stroke-width="1.2" />
<line x1="520.66" y1="240.5" x2="520.66" y2="243" stroke="#c4c4c4" stroke-width="1.2" />
<line x1="540.39" y1="291.5" x2="540.39" y2="289" stroke="#c4c4c4" stroke-width="1.2" />
<line x1="540.39" y1="240.5" x2="540.39" y2="243" stroke="#c4c4c4" stroke-width="1.2" />
<line x1="560.12" y1="291.5" x2="560.12" y2="289" stroke="#c4c4c4" stroke-width="1.2" />
<line x1="560.12" y1="240.5" x2="560.12" y2="243" stroke="#c4c4c4" stroke-width="1.2" />
<line x1="579.85" y1="291.5" x2="579.85" y2="289" stroke="#c4c4c4" stroke-width="1.2" />
<line x1="579.85" y1="240.5" x2="579.85" y2="243" stroke="#c4c4c4" stroke-width="1.2" />
<line x1="599.58" y1="291.5" x2="599.58" y2="289" stroke="#c4c4c4" stroke-width="1.2" />
<line x1="599.58" y1="240.5" x2="599.58" y2="243" stroke="#c4c4c4" stroke-width="1.2" />
<line x1="619.31" y1="291.5" x2="619.31" y2="289" stroke="#c4c4c4" stroke-width="1.2" />
<line x1="619.31" y1="240.5" x2="619.31" y2="243" stroke="#c4c4c4" stroke-width="1.2" />
<line x1="639.04" y1="291.5" x2="639.04" y2="289" stroke="#c4c4c4" stroke-width="1.2" />
<line x1="639.04" y1="240.5" x2="639.04" y2="243" stroke="#c4c4c4" stroke-width="1.2" />
<line x1="658.77" y1="291.5" x2="658.77" y2="289" stroke="#c4c4c4" stroke-width="1.2" />
<line x1="658.77" y1="240.5" x2="658.77" y2="243" stroke="#c4c4c4" stroke-width="1.2" />
<line x1="678.5" y1="291.5" x2="678.5" y2="289" stroke="#c4c4c4" stroke-width="1.2" />
<line x1="678.5" y1="240.5" x2="678.5" y2="243" stroke="#c4c4c4" stroke-width="1.2" />
<line x1="481.5" y1="289.9" x2="484" y2="289.9" stroke="#c4c4c4" stroke-width="1.2" />
<line x1="678.5" y1="289.9" x2="676" y2="289.9" stroke="#c4c4c4" stroke-width="1.2" />
<line x1="481.5" y1="269.55" x2="484" y2="269.55" stroke="#c4c4c4" stroke-width="1.2" />
<line x1="678.5" y1="269.55" x2="676" y2="269.55" stroke="#c4c4c4" stroke-width="1.2" />
<line x1="481.5" y1="249.2" x2="484" y2="249.2" stroke="#c4c4c4" stroke-width="1.2" />
<line x1="678.5" y1="249.2" x2="676" y2="249.2" stroke="#c4c4c4" stroke-width="1.2" />
<text transform="translate(500.93,302.28) scale(1.0,1.0)" font-size="7.3" text-anchor="middle" font-family='"Liberation Serif", serif' font-weight="bold" >50</text>
<text transform="translate(520.66,302.28) scale(1.0,1.0)" font-size="7.3" text-anchor="middle" font-family='"Liberation Serif", serif' font-weight="bold" >100</text>
<text transform="translate(540.39,302.28) scale(1.0,1.0)" font-size="7.3" text-anchor="middle" font-family='"Liberation Serif", serif' font-weight="bold" >150</text>
<text transform="translate(560.12,302.28) scale(1.0,1.0)" font-size="7.3" text-anchor="middle" font-family='"Liberation Serif", serif' font-weight="bold" >200</text>
<text transform="translate(579.85,302.28) scale(1.0,1.0)" font-size="7.3" text-anchor="middle" font-family='"Liberation Serif", serif' font-weight="bold" >250</text>
<text transform="translate(599.58,302.28) scale(1.0,1.0)" font-size="7.3" text-anchor="middle" font-family='"Liberation Serif", serif' font-weight="bold" >300</text>
<text transform="translate(619.31,302.28) scale(1.0,1.0)" font-size="7.3" text-anchor="middle" font-family='"Liberation Serif", serif' font-weight="bold" >350</text>
<text transform="translate(639.04,302.28) scale(1.0,1.0)" font-size="7.3" text-anchor="middle" font-family='"Liberation Serif", serif' font-weight="bold" >400</text>
<text transform="translate(658.77,302.28) scale(1.0,1.0)" font-size="7.3" text-anchor="middle" font-family='"Liberation Serif", serif' font-weight="bold" >450</text>
<text transform="translate(678.5,302.28) scale(1.0,1.0)" font-size="7.3" text-anchor="middle" font-family='"Liberation Serif", serif' font-weight="bold" >500</text>
<text transform="translate(478.8,293.38) scale(1.0,1.0)" font-size="7.3" text-anchor="end" font-family='"Liberation Serif", serif' font-weight="bold" >11</text>
<text transform="translate(478.8,273.03) scale(1.0,1.0)" font-size="7.3" text-anchor="end" font-family='"Liberation Serif", serif' font-weight="bold" >11.5</text>
<text transform="translate(478.8,252.68) scale(1.0,1.0)" font-size="7.3" text-anchor="end" font-family='"Liberation Serif", serif' font-weight="bold" >12</text>
<text x="579.7" y="237.7" font-size="7.8" text-anchor="middle" font-family='"Liberation Serif", serif' font-weight="bold" fill="#000" >Average NRMSE of Bats</text>
<text transform="translate(464,265.7) rotate(-90) scale(1,0.9)" x="0" y="0" font-size="7.8" text-anchor="middle" font-family='"Liberation Serif", serif' font-weight="bold">NRMSE(%)</text>
<text transform="translate(493.3,250.4) scale(1.1,1)" font-size="6.4" text-anchor="start" font-family='"Liberation Serif", serif' font-weight="bold" >(f)</text>
<text x="580.2" y="311" font-size="7.7" text-anchor="middle" font-family='"Liberation Serif", serif' font-weight="bold" fill="#000" >iteration</text>
<polyline points="481.6,240.25 481.99,240.25 482.39,240.25 482.78,240.25 483.18,240.25 483.57,240.25 483.97,240.25 484.36,240.25 484.76,252.64 485.15,253.59 485.55,252 485.94,252.93 486.34,254.09 486.73,256.83 487.12,255.61 487.52,254.75 487.91,259.49 488.31,258.27 488.7,261.78 489.1,261.1 489.49,262.77 489.89,260.04 490.28,262.67 490.68,260.06 491.07,260.8 491.46,261.99 491.86,267.22 492.25,263.68 492.65,263.15 493.04,263.28 493.44,267.07 493.83,265.37 494.23,266.82 494.62,266.9 495.02,263.51 495.41,267.72 495.81,266.54 496.2,265.07 496.59,268.44 496.99,267.85 497.38,267.77 497.78,268.23 498.17,271.2 498.57,268.9 498.96,266.63 499.36,272.88 499.75,271.48 500.15,270.14 500.54,272 500.93,266.93 501.33,269.89 501.72,274.04 502.12,271.74 502.51,271 502.91,272.83 503.3,271.33 503.7,273.13 504.09,271.9 504.49,270.58 504.88,275.14 505.28,273.6 505.67,275.19 506.06,274.23 506.46,277.14 506.85,277.45 507.25,275.57 507.64,273.56 508.04,273.28 508.43,278.51 508.83,277.64 509.22,274.91 509.62,280.48 510.01,277.56 510.41,279.28 510.8,274.44 511.19,275.78 511.59,278.02 511.98,278.28 512.38,278.22 512.77,274.77 513.17,278.91 513.56,278.82 513.96,277.64 514.35,278.76 514.75,279.07 515.14,281.44 515.53,278.99 515.93,280.01 516.32,276.88 516.72,278.06 517.11,279.58 517.51,278.3 517.9,280.48 518.3,277.78 518.69,280.05 519.09,278.98 519.48,282.91 519.88,279.7 520.27,283.95 520.66,284.77 521.06,281.36 521.45,282.68 521.85,280.62 522.24,273.91 522.64,282.86 523.03,282.54 523.43,280.95 523.82,280.46 524.22,281.91 524.61,282.07 525,280.31 525.4,280.77 525.79,284.02 526.19,282.16 526.58,282.01 526.98,284.31 527.37,281.72 527.77,284.07 528.16,281.72 528.56,282.09 528.95,282.37 529.35,283.83 529.74,282.94 530.13,286.83 530.53,285.14 530.92,282.17 531.32,287.3 531.71,281.31 532.11,286.65 532.5,281.62 532.9,284.94 533.29,281.7 533.69,283.07 534.08,286.52 534.47,280.91 534.87,280.57 535.26,283.7 535.66,286.38 536.05,283.99 536.45,285.7 536.84,281.53 537.24,284.92 537.63,283.97 538.03,285.53 538.42,285.23 538.82,286.6 539.21,281.49 539.6,284.4 540,282.17 540.39,284.15 540.79,285.63 541.18,284.92 541.58,285.44 541.97,284.32 542.37,285.13 542.76,285.02 543.16,287.25 543.55,286.12 543.95,281.15 544.34,285.91 544.73,286.73 545.13,283.93 545.52,281.78 545.92,287.64 546.31,285.13 546.71,286.03 547.1,288.35 547.5,283.3 547.89,284.87 548.29,283.29 548.68,286.41 549.07,283.98 549.47,286.03 549.86,285.25 550.26,287.24 550.65,287.49 551.05,282.32 551.44,286.09 551.84,284.49 552.23,285.17 552.63,284.39 553.02,286.18 553.42,283.89 553.81,285.81 554.2,285.52 554.6,285.19 554.99,282.86 555.39,283.89 555.78,284.51 556.18,286.46 556.57,288.14 556.97,283.41 557.36,283.4 557.76,285.67 558.15,284.3 558.54,283.82 558.94,283.74 559.33,283.57 559.73,286.39 560.12,282.4 560.52,288.03 560.91,283.75 561.31,284.52 561.7,283.76 562.1,281.73 562.49,282.54 562.89,287.91 563.28,289.03 563.67,283.94 564.07,287.68 564.46,285.65 564.86,283.93 565.25,289 565.65,289.96 566.04,285.15 566.44,285.6 566.83,286.2 567.23,282.41 567.62,287.47 568.02,288.81 568.41,286.08 568.8,287.73 569.2,289.1 569.59,284.74 569.99,285.9 570.38,284.96 570.78,287.81 571.17,287.14 571.57,287.85 571.96,287.62 572.36,285.43 572.75,287.43 573.14,285.12 573.54,285.16 573.93,281.74 574.33,288.7 574.72,286.27 575.12,286.06 575.51,285.92 575.91,288.85 576.3,286.84 576.7,284.4 577.09,286.08 577.49,285.76 577.88,286.52 578.27,283.59 578.67,285.98 579.06,290.42 579.46,287.36 579.85,289.96 580.25,290.92 580.64,287.05 581.04,278.56 581.43,285.88 581.83,288.37 582.22,287.9 582.61,283.69 583.01,285.68 583.4,285.91 583.8,286.12 584.19,285.93 584.59,284.38 584.98,284.9 585.38,285.59 585.77,288.15 586.17,284.99 586.56,287.43 586.96,283.82 587.35,288.63 587.74,286.33 588.14,286.07 588.53,288.75 588.93,282.56 589.32,283.09 589.72,287.01 590.11,284.5 590.51,285.3 590.9,290.92 591.3,285.57 591.69,286.21 592.08,276.72 592.48,288.28 592.87,286.64 593.27,286.46 593.66,283.68 594.06,285.42 594.45,286.12 594.85,283 595.24,287.24 595.64,286.9 596.03,289.81 596.43,282.92 596.82,284.16 597.21,284.26 597.61,284.76 598,285.9 598.4,285.69 598.79,286.64 599.19,286.55 599.58,286.02 599.98,283.06 600.37,285.01 600.77,286.26 601.16,287.32 601.56,287.44 601.95,282.88 602.34,285.12 602.74,286.01 603.13,286.86 603.53,288.41 603.92,286.29 604.32,284.38 604.71,286.96 605.11,286.62 605.5,286.61 605.9,285.94 606.29,289.41 606.68,286.64 607.08,287.91 607.47,284.37 607.87,287.74 608.26,285 608.66,283.07 609.05,286.81 609.45,287.4 609.84,285.79 610.24,286.18 610.63,288.2 611.03,285.24 611.42,277.02 611.81,286.71 612.21,286.6 612.6,288.31 613,285.54 613.39,288.72 613.79,288.44 614.18,283.58 614.58,288.03 614.97,283.99 615.37,283.09 615.76,285.66 616.15,285.07 616.55,282.22 616.94,286.59 617.34,287.4 617.73,288.95 618.13,286.11 618.52,283.19 618.92,281.37 619.31,288.12 619.71,287.94 620.1,287.23 620.5,285.61 620.89,286.62 621.28,288.08 621.68,289.86 622.07,286.81 622.47,286.29 622.86,285.79 623.26,286.38 623.65,285.18 624.05,281.81 624.44,285 624.84,286.09 625.23,289.64 625.63,285.42 626.02,287.2 626.41,289.08 626.81,284.47 627.2,284.77 627.6,286.52 627.99,289.69 628.39,286.97 628.78,286.5 629.18,284.92 629.57,286.09 629.97,285.77 630.36,287.8 630.75,288.6 631.15,286.33 631.54,286.58 631.94,288.56 632.33,285.98 632.73,288.56 633.12,283.96 633.52,284.06 633.91,284.01 634.31,287.18 634.7,285.17 635.1,286.49 635.49,287.01 635.88,286.91 636.28,288.87 636.67,289.16 637.07,284.61 637.46,283.41 637.86,285.78 638.25,284.18 638.65,289.75 639.04,287.82 639.44,285.87 639.83,285.43 640.22,286.99 640.62,284.13 641.01,288.76 641.41,288.69 641.8,288.12 642.2,284.59 642.59,285.28 642.99,290.09 643.38,283.48 643.78,285.01 644.17,289.03 644.57,287.01 644.96,286.83 645.35,288.52 645.75,281.06 646.14,286.58 646.54,283 646.93,287.54 647.33,285.89 647.72,289.63 648.12,287.01 648.51,284.23 648.91,290.92 649.3,284.05 649.69,285.54 650.09,288.35 650.48,287.25 650.88,287.16 651.27,286.33 651.67,287.32 652.06,287.91 652.46,286.85 652.85,288.32 653.25,288.85 653.64,286.33 654.04,284.43 654.43,289.34 654.82,286.22 655.22,287.55 655.61,288.22 656.01,283.58 656.4,287.29 656.8,283.18 657.19,287.82 657.59,285.45 657.98,286.69 658.38,287.77 658.77,285.04 659.17,286.55 659.56,285 659.95,286.33 660.35,290.92 660.74,286.44 661.14,286.13 661.53,284.28 661.93,288.08 662.32,286.31 662.72,289.74 663.11,284.91 663.51,288.43 663.9,289.91 664.29,286.35 664.69,283.98 665.08,289.34 665.48,288.45 665.87,287.75 666.27,288.53 666.66,285.46 667.06,287.88 667.45,287.7 667.85,285.05 668.24,287.77 668.64,285.35 669.03,288.21 669.42,288.7 669.82,289.97 670.21,282.45 670.61,286.89 671,285.74 671.4,286.3 671.79,285.91 672.19,286.13 672.58,282.35 672.98,288.35 673.37,289.4 673.76,288.29 674.16,288.95 674.55,284.71 674.95,284.57 675.34,288.19 675.74,289.06 676.13,286.96 676.53,283.4 676.92,290.92 677.32,285.16 677.71,288.42 678.11,284.12 678.5,288.43" fill="none" stroke="#ec1eae" stroke-width="0.85" stroke-linejoin="round" />
<rect x="617.1" y="243.6" width="57.7" height="9.2" fill="#fff" stroke="#c4c4c4" stroke-width="0.8"/>
<line x1="619" y1="248.7" x2="632.8" y2="248.7" stroke="#ec1eae" stroke-width="0.9" />
<text transform="translate(634.9,250.8) scale(0.89,1)" font-size="6.9" text-anchor="start" font-family='"Liberation Sans", sans-serif' font-weight="bold" >Avrg NRMSE</text>
</svg></body></html>
